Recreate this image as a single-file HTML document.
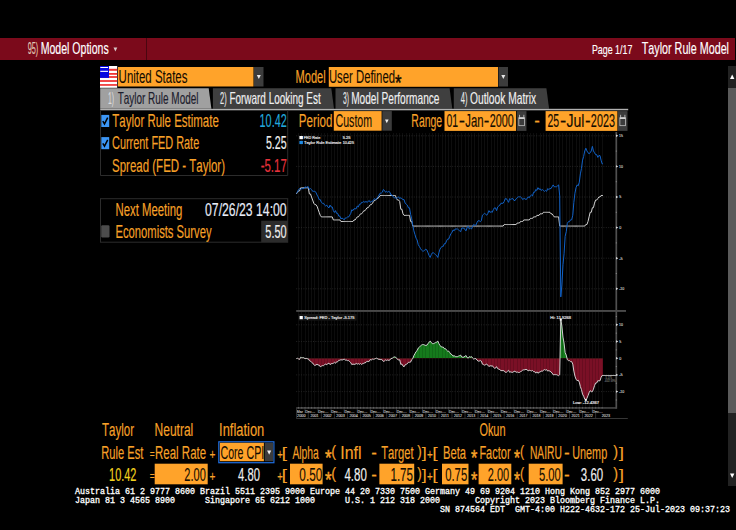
<!DOCTYPE html>
<html lang="en"><head><meta charset="utf-8"><title>Taylor Rule Model</title>
<style>html,body{margin:0;padding:0;background:#000;width:736px;height:530px;overflow:hidden}svg text{white-space:pre;font-kerning:none}</style></head>
<body>
<svg width="736" height="530" viewBox="0 0 736 530" style="display:block">
<rect x="0" y="0" width="736" height="530" fill="#000" />
<rect x="0" y="38" width="735" height="22" fill="#7b0a1b" />
<rect x="146" y="38" width="1" height="22" fill="#4a0610" />
<text x="27.66" y="53.8" textLength="10.49" lengthAdjust="spacingAndGlyphs" font-family='"Liberation Sans", sans-serif' font-size="16.7" font-weight="normal" fill="#e0c8b4"  stroke="#e0c8b4" stroke-width="0.16">95)</text>
<text x="40.63" y="53.8" textLength="68.05" lengthAdjust="spacingAndGlyphs" font-family='"Liberation Sans", sans-serif' font-size="16.7" font-weight="normal" fill="#ffffff"  stroke="#ffffff" stroke-width="0.16">Model Options</text>
<path d="M113.5 47.5 L117.3 47.5 L115.4 51.5 Z" fill="#d8c8c8"/>
<text x="591.97" y="53.8" textLength="40.37" lengthAdjust="spacingAndGlyphs" font-family='"Liberation Sans", sans-serif' font-size="13.4" font-weight="normal" fill="#ffffff"  stroke="#ffffff" stroke-width="0.16">Page 1/17</text>
<text x="641.76" y="53.8" textLength="87.26" lengthAdjust="spacingAndGlyphs" font-family='"Liberation Sans", sans-serif' font-size="17" font-weight="normal" fill="#ffffff"  stroke="#ffffff" stroke-width="0.16">Taylor Rule Model</text>
<rect x="728" y="66" width="8" height="420" fill="#222222" />
<rect x="728" y="88" width="8" height="325" fill="#5a5a5a" />
<path d="M730 79 L734.4 79 L732.2 74.5 Z" fill="#ffffff"/>
<path d="M730 473.5 L734.4 473.5 L732.2 478 Z" fill="#ffffff"/>
<rect x="100" y="66" width="17.2" height="21.8" fill="#ffffff" />
<rect x="100" y="68.8" width="17.2" height="2" fill="#f03434" />
<rect x="100" y="73" width="17.2" height="1.8" fill="#f03434" />
<rect x="100" y="76.1" width="17.2" height="1.8" fill="#f03434" />
<rect x="100" y="80.1" width="17.2" height="1.8" fill="#f03434" />
<rect x="100" y="84.1" width="17.2" height="1.7" fill="#f03434" />
<rect x="100" y="66" width="9" height="11.9" fill="#0808e0" />
<rect x="100.3" y="67" width="7.7" height="1" fill="#ffffff" />
<rect x="100.3" y="70.8" width="7.7" height="1.1" fill="#ffffff" />
<rect x="118" y="67" width="135.5" height="19.5" fill="#ffa32a" />
<text x="118.62" y="82.7" textLength="68.80" lengthAdjust="spacingAndGlyphs" font-family='"Liberation Sans", sans-serif' font-size="18.3" font-weight="normal" fill="#140c00"  stroke="#140c00" stroke-width="0.1">United States</text>
<rect x="254" y="67" width="9.5" height="19.5" fill="#3c3c3c" />
<path d="M256.8 75 L260.8 75 L258.8 79 Z" fill="#e8e8e8"/>
<text x="295.59" y="82.7" textLength="30.15" lengthAdjust="spacingAndGlyphs" font-family='"Liberation Sans", sans-serif' font-size="18.3" font-weight="normal" fill="#f7a128"  stroke="#f7a128" stroke-width="0.16">Model</text>
<rect x="328.8" y="67" width="169.2" height="19.8" fill="#ffa32a" />
<text x="328.93" y="82.7" textLength="66.10" lengthAdjust="spacingAndGlyphs" font-family='"Liberation Sans", sans-serif' font-size="18.3" font-weight="normal" fill="#140c00"  stroke="#140c00" stroke-width="0.1">User Defined</text>
<text x="394.93" y="89.6405" textLength="6.53" lengthAdjust="spacingAndGlyphs" font-family='"Liberation Sans", sans-serif' font-size="21.9327" font-weight="normal" fill="#140c00"  stroke="#140c00" stroke-width="0.45">*</text>
<rect x="498.5" y="67" width="9.5" height="19.5" fill="#3c3c3c" />
<path d="M501.3 75 L505.3 75 L503.3 79 Z" fill="#e8e8e8"/>
<path d="M100.2 88.2 L208.7 88.2 L211.39999999999998 108.7 L100.2 108.7 Z" fill="#a0a0a0"/>
<path d="M212.9 88.2 L331.3 88.2 L334.0 108.7 L212.9 108.7 Z" fill="#3f3f3f"/>
<path d="M335.5 88.2 L449.6 88.2 L452.3 108.7 L335.5 108.7 Z" fill="#3f3f3f"/>
<path d="M453.8 88.2 L546.4 88.2 L549.1 108.7 L453.8 108.7 Z" fill="#3f3f3f"/>
<rect x="100.2" y="108.8" width="528" height="1.5" fill="#b0b0b0" />
<text x="107.88" y="104" textLength="6.04" lengthAdjust="spacingAndGlyphs" font-family='"Liberation Sans", sans-serif' font-size="16.5" font-weight="normal" fill="#dcdcdc"  stroke="#dcdcdc" stroke-width="0.16">1)</text>
<text x="117.68" y="104" textLength="80.79" lengthAdjust="spacingAndGlyphs" font-family='"Liberation Sans", sans-serif' font-size="16.5" font-weight="normal" fill="#1c1c2c"  stroke="#1c1c2c" stroke-width="0.16">Taylor Rule Model</text>
<text x="220.12" y="104" textLength="6.64" lengthAdjust="spacingAndGlyphs" font-family='"Liberation Sans", sans-serif' font-size="16.5" font-weight="normal" fill="#e8e8e8"  stroke="#e8e8e8" stroke-width="0.16">2)</text>
<text x="229.38" y="104" textLength="91.29" lengthAdjust="spacingAndGlyphs" font-family='"Liberation Sans", sans-serif' font-size="16.5" font-weight="normal" fill="#f0f0f0"  stroke="#f0f0f0" stroke-width="0.16">Forward Looking Est</text>
<text x="342.94" y="104" textLength="5.97" lengthAdjust="spacingAndGlyphs" font-family='"Liberation Sans", sans-serif' font-size="16.5" font-weight="normal" fill="#e8e8e8"  stroke="#e8e8e8" stroke-width="0.16">3)</text>
<text x="351.17" y="104" textLength="88.28" lengthAdjust="spacingAndGlyphs" font-family='"Liberation Sans", sans-serif' font-size="16.5" font-weight="normal" fill="#f0f0f0"  stroke="#f0f0f0" stroke-width="0.16">Model Performance</text>
<text x="460.83" y="104" textLength="6.74" lengthAdjust="spacingAndGlyphs" font-family='"Liberation Sans", sans-serif' font-size="16.5" font-weight="normal" fill="#e8e8e8"  stroke="#e8e8e8" stroke-width="0.16">4)</text>
<text x="470.01" y="104" textLength="66.10" lengthAdjust="spacingAndGlyphs" font-family='"Liberation Sans", sans-serif' font-size="16.5" font-weight="normal" fill="#f0f0f0"  stroke="#f0f0f0" stroke-width="0.16">Outlook Matrix</text>
<path d="M100.5 110 L100.5 175.5 L287.7 175.5 L287.7 110" fill="none" stroke="#2c2c2c" stroke-width="1"/>
<rect x="101.3" y="114.9" width="7.9" height="12.1" fill="#3c96f5" />
<path d="M102.8 121.10000000000001 L104.5 123.9 L107.7 117.7" fill="none" stroke="#000" stroke-width="1.5"/>
<text x="112.34" y="126.6" textLength="106.47" lengthAdjust="spacingAndGlyphs" font-family='"Liberation Sans", sans-serif' font-size="18.3" font-weight="normal" fill="#f7a128"  stroke="#f7a128" stroke-width="0.16">Taylor Rule Estimate</text>
<text x="259.57" y="126.6" textLength="27.17" lengthAdjust="spacingAndGlyphs" font-family='"Liberation Sans", sans-serif' font-size="18.3" font-weight="normal" fill="#22a8dc"  stroke="#22a8dc" stroke-width="0.16">10.42</text>
<rect x="101.3" y="137.1" width="7.9" height="12.1" fill="#3c96f5" />
<path d="M102.8 143.29999999999998 L104.5 146.1 L107.7 139.9" fill="none" stroke="#000" stroke-width="1.5"/>
<text x="112.05" y="149.4" textLength="87.14" lengthAdjust="spacingAndGlyphs" font-family='"Liberation Sans", sans-serif' font-size="18.3" font-weight="normal" fill="#f7a128"  stroke="#f7a128" stroke-width="0.16">Current FED Rate</text>
<text x="265.97" y="149.4" textLength="20.67" lengthAdjust="spacingAndGlyphs" font-family='"Liberation Sans", sans-serif' font-size="18.3" font-weight="normal" fill="#f0f0f0"  stroke="#f0f0f0" stroke-width="0.16">5.25</text>
<text x="112.08" y="171.5" textLength="112.93" lengthAdjust="spacingAndGlyphs" font-family='"Liberation Sans", sans-serif' font-size="18.3" font-weight="normal" fill="#f7a128"  stroke="#f7a128" stroke-width="0.16">Spread (FED - Taylor)</text>
<text x="260.69" y="171.5" textLength="26.08" lengthAdjust="spacingAndGlyphs" font-family='"Liberation Sans", sans-serif' font-size="18.3" font-weight="normal" fill="#e6323c"  stroke="#e6323c" stroke-width="0.16">-5.17</text>
<rect x="100.5" y="198.7" width="187.2" height="43.5" fill="none" stroke="#2c2c2c" stroke-width="1"/>
<text x="115.47" y="215.8" textLength="66.86" lengthAdjust="spacingAndGlyphs" font-family='"Liberation Sans", sans-serif' font-size="18.3" font-weight="normal" fill="#f7a128"  stroke="#f7a128" stroke-width="0.16">Next Meeting</text>
<text x="205.02" y="215.8" textLength="81.66" lengthAdjust="spacingAndGlyphs" font-family='"Liberation Sans", sans-serif' font-size="18.3" font-weight="normal" fill="#e8ecf8"  stroke="#e8ecf8" stroke-width="0.16">07/26/23 14:00</text>
<rect x="101.2" y="225.2" width="8.3" height="12.2" fill="#4c4c4c" rx="1.2"/>
<text x="115.48" y="237.7" textLength="96.04" lengthAdjust="spacingAndGlyphs" font-family='"Liberation Sans", sans-serif' font-size="18.3" font-weight="normal" fill="#f7a128"  stroke="#f7a128" stroke-width="0.16">Economists Survey</text>
<rect x="261.2" y="220.7" width="26.6" height="21.5" fill="#2c2c2c" />
<text x="265.36" y="237.7" textLength="21.26" lengthAdjust="spacingAndGlyphs" font-family='"Liberation Sans", sans-serif' font-size="18.3" font-weight="normal" fill="#f0f0f0"  stroke="#f0f0f0" stroke-width="0.16">5.50</text>
<text x="298.85" y="126.5" textLength="33.50" lengthAdjust="spacingAndGlyphs" font-family='"Liberation Sans", sans-serif' font-size="18.3" font-weight="normal" fill="#f7a128"  stroke="#f7a128" stroke-width="0.16">Period</text>
<rect x="333.8" y="111.1" width="47.8" height="19.6" fill="#ffa32a" />
<text x="335.56" y="126.5" textLength="36.54" lengthAdjust="spacingAndGlyphs" font-family='"Liberation Sans", sans-serif' font-size="18.3" font-weight="normal" fill="#140c00"  stroke="#140c00" stroke-width="0.1">Custom</text>
<rect x="382.3" y="111.1" width="9.5" height="19.6" fill="#3c3c3c" />
<path d="M385 119.6 L388.6 119.6 L386.8 123.2 Z" fill="#f0f0f0"/>
<text x="411.34" y="126.5" textLength="30.82" lengthAdjust="spacingAndGlyphs" font-family='"Liberation Sans", sans-serif' font-size="18.3" font-weight="normal" fill="#f7a128"  stroke="#f7a128" stroke-width="0.16">Range</text>
<rect x="444.5" y="111.1" width="71.6" height="19.8" fill="#ffa32a" />
<text x="446.39" y="126.6" textLength="11.62" lengthAdjust="spacingAndGlyphs" font-family='"Liberation Sans", sans-serif' font-size="18.3" font-weight="normal" fill="#140c00"  stroke="#140c00" stroke-width="0.15">01</text>
<text x="458.86" y="126.6" textLength="6.27" lengthAdjust="spacingAndGlyphs" font-family='"Liberation Sans", sans-serif' font-size="18.3" font-weight="normal" fill="#140c00"  stroke="#140c00" stroke-width="0.15">-</text>
<text x="465.32" y="126.6" textLength="18.32" lengthAdjust="spacingAndGlyphs" font-family='"Liberation Sans", sans-serif' font-size="18.3" font-weight="normal" fill="#140c00"  stroke="#140c00" stroke-width="0.15">Jan</text>
<text x="483.85" y="126.6" textLength="5.59" lengthAdjust="spacingAndGlyphs" font-family='"Liberation Sans", sans-serif' font-size="18.3" font-weight="normal" fill="#140c00"  stroke="#140c00" stroke-width="0.15">-</text>
<text x="489.66" y="126.6" textLength="24.07" lengthAdjust="spacingAndGlyphs" font-family='"Liberation Sans", sans-serif' font-size="18.3" font-weight="normal" fill="#140c00"  stroke="#140c00" stroke-width="0.15">2000</text>
<rect x="516.95" y="111.1" width="9.5" height="19.8" fill="#3c3c3c" />
<rect x="518.85" y="117.7" width="5.7" height="8" fill="none" stroke="#d0d0d0" stroke-width="0.7"/>
<rect x="518.85" y="117.4" width="5.7" height="1.6" fill="#d0d0d0" />
<line x1="519.55" y1="114.8" x2="519.55" y2="117.5" stroke="#d0d0d0" stroke-width="0.8" />
<line x1="523.85" y1="114.8" x2="523.85" y2="117.5" stroke="#d0d0d0" stroke-width="0.8" />
<text x="534.15" y="126.6" textLength="5.59" lengthAdjust="spacingAndGlyphs" font-family='"Liberation Sans", sans-serif' font-size="18.3" font-weight="normal" fill="#f7a128"  stroke="#f7a128" stroke-width="0.16">-</text>
<rect x="545.6" y="111.1" width="71.8" height="19.8" fill="#ffa32a" />
<text x="547.47" y="126.6" textLength="11.67" lengthAdjust="spacingAndGlyphs" font-family='"Liberation Sans", sans-serif' font-size="18.3" font-weight="normal" fill="#140c00"  stroke="#140c00" stroke-width="0.15">25</text>
<text x="560.06" y="126.6" textLength="6.27" lengthAdjust="spacingAndGlyphs" font-family='"Liberation Sans", sans-serif' font-size="18.3" font-weight="normal" fill="#140c00"  stroke="#140c00" stroke-width="0.15">-</text>
<text x="566.48" y="126.6" textLength="17.96" lengthAdjust="spacingAndGlyphs" font-family='"Liberation Sans", sans-serif' font-size="18.3" font-weight="normal" fill="#140c00"  stroke="#140c00" stroke-width="0.15">Jul</text>
<text x="585.05" y="126.6" textLength="5.59" lengthAdjust="spacingAndGlyphs" font-family='"Liberation Sans", sans-serif' font-size="18.3" font-weight="normal" fill="#140c00"  stroke="#140c00" stroke-width="0.15">-</text>
<text x="590.85" y="126.6" textLength="24.12" lengthAdjust="spacingAndGlyphs" font-family='"Liberation Sans", sans-serif' font-size="18.3" font-weight="normal" fill="#140c00"  stroke="#140c00" stroke-width="0.15">2023</text>
<rect x="618" y="111.1" width="9.5" height="19.8" fill="#3c3c3c" />
<rect x="619.9" y="117.7" width="5.7" height="8" fill="none" stroke="#d0d0d0" stroke-width="0.7"/>
<rect x="619.9" y="117.4" width="5.7" height="1.6" fill="#d0d0d0" />
<line x1="620.6" y1="114.8" x2="620.6" y2="117.5" stroke="#d0d0d0" stroke-width="0.8" />
<line x1="624.9" y1="114.8" x2="624.9" y2="117.5" stroke="#d0d0d0" stroke-width="0.8" />
<line x1="298.5" y1="133" x2="298.5" y2="310" stroke="#0e0e0e" stroke-width="1" />
<line x1="298.5" y1="312" x2="298.5" y2="407" stroke="#0e0e0e" stroke-width="1" />
<line x1="301.5" y1="133" x2="301.5" y2="310" stroke="#0e0e0e" stroke-width="1" />
<line x1="301.5" y1="312" x2="301.5" y2="407" stroke="#0e0e0e" stroke-width="1" />
<line x1="305.5" y1="133" x2="305.5" y2="310" stroke="#0e0e0e" stroke-width="1" />
<line x1="305.5" y1="312" x2="305.5" y2="407" stroke="#0e0e0e" stroke-width="1" />
<line x1="308.5" y1="133" x2="308.5" y2="310" stroke="#0e0e0e" stroke-width="1" />
<line x1="308.5" y1="312" x2="308.5" y2="407" stroke="#0e0e0e" stroke-width="1" />
<line x1="311.5" y1="133" x2="311.5" y2="310" stroke="#0e0e0e" stroke-width="1" />
<line x1="311.5" y1="312" x2="311.5" y2="407" stroke="#0e0e0e" stroke-width="1" />
<line x1="314.5" y1="133" x2="314.5" y2="310" stroke="#0e0e0e" stroke-width="1" />
<line x1="314.5" y1="312" x2="314.5" y2="407" stroke="#0e0e0e" stroke-width="1" />
<line x1="318.5" y1="133" x2="318.5" y2="310" stroke="#0e0e0e" stroke-width="1" />
<line x1="318.5" y1="312" x2="318.5" y2="407" stroke="#0e0e0e" stroke-width="1" />
<line x1="321.5" y1="133" x2="321.5" y2="310" stroke="#0e0e0e" stroke-width="1" />
<line x1="321.5" y1="312" x2="321.5" y2="407" stroke="#0e0e0e" stroke-width="1" />
<line x1="324.5" y1="133" x2="324.5" y2="310" stroke="#0e0e0e" stroke-width="1" />
<line x1="324.5" y1="312" x2="324.5" y2="407" stroke="#0e0e0e" stroke-width="1" />
<line x1="327.5" y1="133" x2="327.5" y2="310" stroke="#0e0e0e" stroke-width="1" />
<line x1="327.5" y1="312" x2="327.5" y2="407" stroke="#0e0e0e" stroke-width="1" />
<line x1="331.5" y1="133" x2="331.5" y2="310" stroke="#0e0e0e" stroke-width="1" />
<line x1="331.5" y1="312" x2="331.5" y2="407" stroke="#0e0e0e" stroke-width="1" />
<line x1="334.5" y1="133" x2="334.5" y2="310" stroke="#0e0e0e" stroke-width="1" />
<line x1="334.5" y1="312" x2="334.5" y2="407" stroke="#0e0e0e" stroke-width="1" />
<line x1="337.5" y1="133" x2="337.5" y2="310" stroke="#0e0e0e" stroke-width="1" />
<line x1="337.5" y1="312" x2="337.5" y2="407" stroke="#0e0e0e" stroke-width="1" />
<line x1="340.5" y1="133" x2="340.5" y2="310" stroke="#0e0e0e" stroke-width="1" />
<line x1="340.5" y1="312" x2="340.5" y2="407" stroke="#0e0e0e" stroke-width="1" />
<line x1="344.5" y1="133" x2="344.5" y2="310" stroke="#0e0e0e" stroke-width="1" />
<line x1="344.5" y1="312" x2="344.5" y2="407" stroke="#0e0e0e" stroke-width="1" />
<line x1="347.5" y1="133" x2="347.5" y2="310" stroke="#0e0e0e" stroke-width="1" />
<line x1="347.5" y1="312" x2="347.5" y2="407" stroke="#0e0e0e" stroke-width="1" />
<line x1="350.5" y1="133" x2="350.5" y2="310" stroke="#0e0e0e" stroke-width="1" />
<line x1="350.5" y1="312" x2="350.5" y2="407" stroke="#0e0e0e" stroke-width="1" />
<line x1="354.5" y1="133" x2="354.5" y2="310" stroke="#0e0e0e" stroke-width="1" />
<line x1="354.5" y1="312" x2="354.5" y2="407" stroke="#0e0e0e" stroke-width="1" />
<line x1="357.5" y1="133" x2="357.5" y2="310" stroke="#0e0e0e" stroke-width="1" />
<line x1="357.5" y1="312" x2="357.5" y2="407" stroke="#0e0e0e" stroke-width="1" />
<line x1="360.5" y1="133" x2="360.5" y2="310" stroke="#0e0e0e" stroke-width="1" />
<line x1="360.5" y1="312" x2="360.5" y2="407" stroke="#0e0e0e" stroke-width="1" />
<line x1="363.5" y1="133" x2="363.5" y2="310" stroke="#0e0e0e" stroke-width="1" />
<line x1="363.5" y1="312" x2="363.5" y2="407" stroke="#0e0e0e" stroke-width="1" />
<line x1="367.5" y1="133" x2="367.5" y2="310" stroke="#0e0e0e" stroke-width="1" />
<line x1="367.5" y1="312" x2="367.5" y2="407" stroke="#0e0e0e" stroke-width="1" />
<line x1="370.5" y1="133" x2="370.5" y2="310" stroke="#0e0e0e" stroke-width="1" />
<line x1="370.5" y1="312" x2="370.5" y2="407" stroke="#0e0e0e" stroke-width="1" />
<line x1="373.5" y1="133" x2="373.5" y2="310" stroke="#0e0e0e" stroke-width="1" />
<line x1="373.5" y1="312" x2="373.5" y2="407" stroke="#0e0e0e" stroke-width="1" />
<line x1="376.5" y1="133" x2="376.5" y2="310" stroke="#0e0e0e" stroke-width="1" />
<line x1="376.5" y1="312" x2="376.5" y2="407" stroke="#0e0e0e" stroke-width="1" />
<line x1="380.5" y1="133" x2="380.5" y2="310" stroke="#0e0e0e" stroke-width="1" />
<line x1="380.5" y1="312" x2="380.5" y2="407" stroke="#0e0e0e" stroke-width="1" />
<line x1="383.5" y1="133" x2="383.5" y2="310" stroke="#0e0e0e" stroke-width="1" />
<line x1="383.5" y1="312" x2="383.5" y2="407" stroke="#0e0e0e" stroke-width="1" />
<line x1="386.5" y1="133" x2="386.5" y2="310" stroke="#0e0e0e" stroke-width="1" />
<line x1="386.5" y1="312" x2="386.5" y2="407" stroke="#0e0e0e" stroke-width="1" />
<line x1="389.5" y1="133" x2="389.5" y2="310" stroke="#0e0e0e" stroke-width="1" />
<line x1="389.5" y1="312" x2="389.5" y2="407" stroke="#0e0e0e" stroke-width="1" />
<line x1="393.5" y1="133" x2="393.5" y2="310" stroke="#0e0e0e" stroke-width="1" />
<line x1="393.5" y1="312" x2="393.5" y2="407" stroke="#0e0e0e" stroke-width="1" />
<line x1="396.5" y1="133" x2="396.5" y2="310" stroke="#0e0e0e" stroke-width="1" />
<line x1="396.5" y1="312" x2="396.5" y2="407" stroke="#0e0e0e" stroke-width="1" />
<line x1="399.5" y1="133" x2="399.5" y2="310" stroke="#0e0e0e" stroke-width="1" />
<line x1="399.5" y1="312" x2="399.5" y2="407" stroke="#0e0e0e" stroke-width="1" />
<line x1="402.5" y1="133" x2="402.5" y2="310" stroke="#0e0e0e" stroke-width="1" />
<line x1="402.5" y1="312" x2="402.5" y2="407" stroke="#0e0e0e" stroke-width="1" />
<line x1="406.5" y1="133" x2="406.5" y2="310" stroke="#0e0e0e" stroke-width="1" />
<line x1="406.5" y1="312" x2="406.5" y2="407" stroke="#0e0e0e" stroke-width="1" />
<line x1="409.5" y1="133" x2="409.5" y2="310" stroke="#0e0e0e" stroke-width="1" />
<line x1="409.5" y1="312" x2="409.5" y2="407" stroke="#0e0e0e" stroke-width="1" />
<line x1="412.5" y1="133" x2="412.5" y2="310" stroke="#0e0e0e" stroke-width="1" />
<line x1="412.5" y1="312" x2="412.5" y2="407" stroke="#0e0e0e" stroke-width="1" />
<line x1="416.5" y1="133" x2="416.5" y2="310" stroke="#0e0e0e" stroke-width="1" />
<line x1="416.5" y1="312" x2="416.5" y2="407" stroke="#0e0e0e" stroke-width="1" />
<line x1="419.5" y1="133" x2="419.5" y2="310" stroke="#0e0e0e" stroke-width="1" />
<line x1="419.5" y1="312" x2="419.5" y2="407" stroke="#0e0e0e" stroke-width="1" />
<line x1="422.5" y1="133" x2="422.5" y2="310" stroke="#0e0e0e" stroke-width="1" />
<line x1="422.5" y1="312" x2="422.5" y2="407" stroke="#0e0e0e" stroke-width="1" />
<line x1="425.5" y1="133" x2="425.5" y2="310" stroke="#0e0e0e" stroke-width="1" />
<line x1="425.5" y1="312" x2="425.5" y2="407" stroke="#0e0e0e" stroke-width="1" />
<line x1="429.5" y1="133" x2="429.5" y2="310" stroke="#0e0e0e" stroke-width="1" />
<line x1="429.5" y1="312" x2="429.5" y2="407" stroke="#0e0e0e" stroke-width="1" />
<line x1="432.5" y1="133" x2="432.5" y2="310" stroke="#0e0e0e" stroke-width="1" />
<line x1="432.5" y1="312" x2="432.5" y2="407" stroke="#0e0e0e" stroke-width="1" />
<line x1="435.5" y1="133" x2="435.5" y2="310" stroke="#0e0e0e" stroke-width="1" />
<line x1="435.5" y1="312" x2="435.5" y2="407" stroke="#0e0e0e" stroke-width="1" />
<line x1="438.5" y1="133" x2="438.5" y2="310" stroke="#0e0e0e" stroke-width="1" />
<line x1="438.5" y1="312" x2="438.5" y2="407" stroke="#0e0e0e" stroke-width="1" />
<line x1="442.5" y1="133" x2="442.5" y2="310" stroke="#0e0e0e" stroke-width="1" />
<line x1="442.5" y1="312" x2="442.5" y2="407" stroke="#0e0e0e" stroke-width="1" />
<line x1="445.5" y1="133" x2="445.5" y2="310" stroke="#0e0e0e" stroke-width="1" />
<line x1="445.5" y1="312" x2="445.5" y2="407" stroke="#0e0e0e" stroke-width="1" />
<line x1="448.5" y1="133" x2="448.5" y2="310" stroke="#0e0e0e" stroke-width="1" />
<line x1="448.5" y1="312" x2="448.5" y2="407" stroke="#0e0e0e" stroke-width="1" />
<line x1="451.5" y1="133" x2="451.5" y2="310" stroke="#0e0e0e" stroke-width="1" />
<line x1="451.5" y1="312" x2="451.5" y2="407" stroke="#0e0e0e" stroke-width="1" />
<line x1="455.5" y1="133" x2="455.5" y2="310" stroke="#0e0e0e" stroke-width="1" />
<line x1="455.5" y1="312" x2="455.5" y2="407" stroke="#0e0e0e" stroke-width="1" />
<line x1="458.5" y1="133" x2="458.5" y2="310" stroke="#0e0e0e" stroke-width="1" />
<line x1="458.5" y1="312" x2="458.5" y2="407" stroke="#0e0e0e" stroke-width="1" />
<line x1="461.5" y1="133" x2="461.5" y2="310" stroke="#0e0e0e" stroke-width="1" />
<line x1="461.5" y1="312" x2="461.5" y2="407" stroke="#0e0e0e" stroke-width="1" />
<line x1="465.5" y1="133" x2="465.5" y2="310" stroke="#0e0e0e" stroke-width="1" />
<line x1="465.5" y1="312" x2="465.5" y2="407" stroke="#0e0e0e" stroke-width="1" />
<line x1="468.5" y1="133" x2="468.5" y2="310" stroke="#0e0e0e" stroke-width="1" />
<line x1="468.5" y1="312" x2="468.5" y2="407" stroke="#0e0e0e" stroke-width="1" />
<line x1="471.5" y1="133" x2="471.5" y2="310" stroke="#0e0e0e" stroke-width="1" />
<line x1="471.5" y1="312" x2="471.5" y2="407" stroke="#0e0e0e" stroke-width="1" />
<line x1="474.5" y1="133" x2="474.5" y2="310" stroke="#0e0e0e" stroke-width="1" />
<line x1="474.5" y1="312" x2="474.5" y2="407" stroke="#0e0e0e" stroke-width="1" />
<line x1="478.5" y1="133" x2="478.5" y2="310" stroke="#0e0e0e" stroke-width="1" />
<line x1="478.5" y1="312" x2="478.5" y2="407" stroke="#0e0e0e" stroke-width="1" />
<line x1="481.5" y1="133" x2="481.5" y2="310" stroke="#0e0e0e" stroke-width="1" />
<line x1="481.5" y1="312" x2="481.5" y2="407" stroke="#0e0e0e" stroke-width="1" />
<line x1="484.5" y1="133" x2="484.5" y2="310" stroke="#0e0e0e" stroke-width="1" />
<line x1="484.5" y1="312" x2="484.5" y2="407" stroke="#0e0e0e" stroke-width="1" />
<line x1="487.5" y1="133" x2="487.5" y2="310" stroke="#0e0e0e" stroke-width="1" />
<line x1="487.5" y1="312" x2="487.5" y2="407" stroke="#0e0e0e" stroke-width="1" />
<line x1="491.5" y1="133" x2="491.5" y2="310" stroke="#0e0e0e" stroke-width="1" />
<line x1="491.5" y1="312" x2="491.5" y2="407" stroke="#0e0e0e" stroke-width="1" />
<line x1="494.5" y1="133" x2="494.5" y2="310" stroke="#0e0e0e" stroke-width="1" />
<line x1="494.5" y1="312" x2="494.5" y2="407" stroke="#0e0e0e" stroke-width="1" />
<line x1="497.5" y1="133" x2="497.5" y2="310" stroke="#0e0e0e" stroke-width="1" />
<line x1="497.5" y1="312" x2="497.5" y2="407" stroke="#0e0e0e" stroke-width="1" />
<line x1="500.5" y1="133" x2="500.5" y2="310" stroke="#0e0e0e" stroke-width="1" />
<line x1="500.5" y1="312" x2="500.5" y2="407" stroke="#0e0e0e" stroke-width="1" />
<line x1="504.5" y1="133" x2="504.5" y2="310" stroke="#0e0e0e" stroke-width="1" />
<line x1="504.5" y1="312" x2="504.5" y2="407" stroke="#0e0e0e" stroke-width="1" />
<line x1="507.5" y1="133" x2="507.5" y2="310" stroke="#0e0e0e" stroke-width="1" />
<line x1="507.5" y1="312" x2="507.5" y2="407" stroke="#0e0e0e" stroke-width="1" />
<line x1="510.5" y1="133" x2="510.5" y2="310" stroke="#0e0e0e" stroke-width="1" />
<line x1="510.5" y1="312" x2="510.5" y2="407" stroke="#0e0e0e" stroke-width="1" />
<line x1="513.5" y1="133" x2="513.5" y2="310" stroke="#0e0e0e" stroke-width="1" />
<line x1="513.5" y1="312" x2="513.5" y2="407" stroke="#0e0e0e" stroke-width="1" />
<line x1="517.5" y1="133" x2="517.5" y2="310" stroke="#0e0e0e" stroke-width="1" />
<line x1="517.5" y1="312" x2="517.5" y2="407" stroke="#0e0e0e" stroke-width="1" />
<line x1="520.5" y1="133" x2="520.5" y2="310" stroke="#0e0e0e" stroke-width="1" />
<line x1="520.5" y1="312" x2="520.5" y2="407" stroke="#0e0e0e" stroke-width="1" />
<line x1="523.5" y1="133" x2="523.5" y2="310" stroke="#0e0e0e" stroke-width="1" />
<line x1="523.5" y1="312" x2="523.5" y2="407" stroke="#0e0e0e" stroke-width="1" />
<line x1="527.5" y1="133" x2="527.5" y2="310" stroke="#0e0e0e" stroke-width="1" />
<line x1="527.5" y1="312" x2="527.5" y2="407" stroke="#0e0e0e" stroke-width="1" />
<line x1="530.5" y1="133" x2="530.5" y2="310" stroke="#0e0e0e" stroke-width="1" />
<line x1="530.5" y1="312" x2="530.5" y2="407" stroke="#0e0e0e" stroke-width="1" />
<line x1="533.5" y1="133" x2="533.5" y2="310" stroke="#0e0e0e" stroke-width="1" />
<line x1="533.5" y1="312" x2="533.5" y2="407" stroke="#0e0e0e" stroke-width="1" />
<line x1="536.5" y1="133" x2="536.5" y2="310" stroke="#0e0e0e" stroke-width="1" />
<line x1="536.5" y1="312" x2="536.5" y2="407" stroke="#0e0e0e" stroke-width="1" />
<line x1="540.5" y1="133" x2="540.5" y2="310" stroke="#0e0e0e" stroke-width="1" />
<line x1="540.5" y1="312" x2="540.5" y2="407" stroke="#0e0e0e" stroke-width="1" />
<line x1="543.5" y1="133" x2="543.5" y2="310" stroke="#0e0e0e" stroke-width="1" />
<line x1="543.5" y1="312" x2="543.5" y2="407" stroke="#0e0e0e" stroke-width="1" />
<line x1="546.5" y1="133" x2="546.5" y2="310" stroke="#0e0e0e" stroke-width="1" />
<line x1="546.5" y1="312" x2="546.5" y2="407" stroke="#0e0e0e" stroke-width="1" />
<line x1="549.5" y1="133" x2="549.5" y2="310" stroke="#0e0e0e" stroke-width="1" />
<line x1="549.5" y1="312" x2="549.5" y2="407" stroke="#0e0e0e" stroke-width="1" />
<line x1="553.5" y1="133" x2="553.5" y2="310" stroke="#0e0e0e" stroke-width="1" />
<line x1="553.5" y1="312" x2="553.5" y2="407" stroke="#0e0e0e" stroke-width="1" />
<line x1="556.5" y1="133" x2="556.5" y2="310" stroke="#0e0e0e" stroke-width="1" />
<line x1="556.5" y1="312" x2="556.5" y2="407" stroke="#0e0e0e" stroke-width="1" />
<line x1="559.5" y1="133" x2="559.5" y2="310" stroke="#0e0e0e" stroke-width="1" />
<line x1="559.5" y1="312" x2="559.5" y2="407" stroke="#0e0e0e" stroke-width="1" />
<line x1="562.5" y1="133" x2="562.5" y2="310" stroke="#0e0e0e" stroke-width="1" />
<line x1="562.5" y1="312" x2="562.5" y2="407" stroke="#0e0e0e" stroke-width="1" />
<line x1="566.5" y1="133" x2="566.5" y2="310" stroke="#0e0e0e" stroke-width="1" />
<line x1="566.5" y1="312" x2="566.5" y2="407" stroke="#0e0e0e" stroke-width="1" />
<line x1="569.5" y1="133" x2="569.5" y2="310" stroke="#0e0e0e" stroke-width="1" />
<line x1="569.5" y1="312" x2="569.5" y2="407" stroke="#0e0e0e" stroke-width="1" />
<line x1="572.5" y1="133" x2="572.5" y2="310" stroke="#0e0e0e" stroke-width="1" />
<line x1="572.5" y1="312" x2="572.5" y2="407" stroke="#0e0e0e" stroke-width="1" />
<line x1="576.5" y1="133" x2="576.5" y2="310" stroke="#0e0e0e" stroke-width="1" />
<line x1="576.5" y1="312" x2="576.5" y2="407" stroke="#0e0e0e" stroke-width="1" />
<line x1="579.5" y1="133" x2="579.5" y2="310" stroke="#0e0e0e" stroke-width="1" />
<line x1="579.5" y1="312" x2="579.5" y2="407" stroke="#0e0e0e" stroke-width="1" />
<line x1="582.5" y1="133" x2="582.5" y2="310" stroke="#0e0e0e" stroke-width="1" />
<line x1="582.5" y1="312" x2="582.5" y2="407" stroke="#0e0e0e" stroke-width="1" />
<line x1="585.5" y1="133" x2="585.5" y2="310" stroke="#0e0e0e" stroke-width="1" />
<line x1="585.5" y1="312" x2="585.5" y2="407" stroke="#0e0e0e" stroke-width="1" />
<line x1="589.5" y1="133" x2="589.5" y2="310" stroke="#0e0e0e" stroke-width="1" />
<line x1="589.5" y1="312" x2="589.5" y2="407" stroke="#0e0e0e" stroke-width="1" />
<line x1="592.5" y1="133" x2="592.5" y2="310" stroke="#0e0e0e" stroke-width="1" />
<line x1="592.5" y1="312" x2="592.5" y2="407" stroke="#0e0e0e" stroke-width="1" />
<line x1="595.5" y1="133" x2="595.5" y2="310" stroke="#0e0e0e" stroke-width="1" />
<line x1="595.5" y1="312" x2="595.5" y2="407" stroke="#0e0e0e" stroke-width="1" />
<line x1="598.5" y1="133" x2="598.5" y2="310" stroke="#0e0e0e" stroke-width="1" />
<line x1="598.5" y1="312" x2="598.5" y2="407" stroke="#0e0e0e" stroke-width="1" />
<line x1="602.5" y1="133" x2="602.5" y2="310" stroke="#0e0e0e" stroke-width="1" />
<line x1="602.5" y1="312" x2="602.5" y2="407" stroke="#0e0e0e" stroke-width="1" />
<line x1="296.2" y1="135.8" x2="616.3" y2="135.8" stroke="#303030" stroke-width="0.7" stroke-dasharray="1 1.4"/>
<line x1="296.2" y1="166.4" x2="616.3" y2="166.4" stroke="#303030" stroke-width="0.7" stroke-dasharray="1 1.4"/>
<line x1="296.2" y1="197" x2="616.3" y2="197" stroke="#303030" stroke-width="0.7" stroke-dasharray="1 1.4"/>
<line x1="296.2" y1="227.6" x2="616.3" y2="227.6" stroke="#303030" stroke-width="0.7" stroke-dasharray="1 1.4"/>
<line x1="296.2" y1="258.2" x2="616.3" y2="258.2" stroke="#303030" stroke-width="0.7" stroke-dasharray="1 1.4"/>
<line x1="296.2" y1="288.8" x2="616.3" y2="288.8" stroke="#303030" stroke-width="0.7" stroke-dasharray="1 1.4"/>
<line x1="296.2" y1="324.8" x2="616.3" y2="324.8" stroke="#303030" stroke-width="0.7" stroke-dasharray="1 1.4"/>
<line x1="296.2" y1="341.5" x2="616.3" y2="341.5" stroke="#303030" stroke-width="0.7" stroke-dasharray="1 1.4"/>
<line x1="296.2" y1="374.9" x2="616.3" y2="374.9" stroke="#303030" stroke-width="0.7" stroke-dasharray="1 1.4"/>
<line x1="296.2" y1="391.6" x2="616.3" y2="391.6" stroke="#303030" stroke-width="0.7" stroke-dasharray="1 1.4"/>
<polyline points="296.33,193.94 297.42,192.41 298.50,190.88 299.59,190.88 300.68,187.82 301.77,187.82 302.86,187.82 303.95,187.82 305.04,187.82 306.12,187.82 307.21,187.82 308.30,187.82 309.39,193.94 310.48,193.94 311.56,197.00 312.65,200.06 313.74,203.12 314.83,204.65 315.92,204.65 317.01,206.18 318.10,209.24 319.18,212.30 320.27,215.36 321.36,216.89 322.45,216.89 323.54,216.89 324.62,216.89 325.71,216.89 326.80,216.89 327.89,216.89 328.98,216.89 330.07,216.89 331.16,216.89 332.24,216.89 333.33,219.95 334.42,219.95 335.51,219.95 336.60,219.95 337.69,219.95 338.77,219.95 339.86,219.95 340.95,221.48 342.04,221.48 343.13,221.48 344.22,221.48 345.30,221.48 346.39,221.48 347.48,221.48 348.57,221.48 349.66,221.48 350.75,221.48 351.83,221.48 352.92,221.48 354.01,219.95 355.10,219.95 356.19,218.42 357.28,216.89 358.36,216.89 359.45,215.36 360.54,213.83 361.63,213.83 362.72,212.30 363.81,210.77 364.89,210.77 365.98,209.24 367.07,207.71 368.16,207.71 369.25,206.18 370.34,204.65 371.42,204.65 372.51,203.12 373.60,201.59 374.69,200.06 375.78,200.06 376.87,198.53 377.95,198.53 379.04,197.00 380.13,195.47 381.22,195.47 382.31,195.47 383.39,195.47 384.48,195.47 385.57,195.47 386.66,195.47 387.75,195.47 388.84,195.47 389.93,195.47 391.01,195.47 392.10,195.47 393.19,195.47 394.28,195.47 395.37,195.47 396.46,198.53 397.54,200.06 398.63,200.06 399.72,201.59 400.81,209.24 401.90,209.24 402.99,213.83 404.07,215.36 405.16,215.36 406.25,215.36 407.34,215.36 408.43,215.36 409.51,215.36 410.60,221.48 411.69,221.48 412.78,226.07 413.87,226.07 414.96,226.07 416.05,226.07 417.13,226.07 418.22,226.07 419.31,226.07 420.40,226.07 421.49,226.07 422.58,226.07 423.66,226.07 424.75,226.07 425.84,226.07 426.93,226.07 428.02,226.07 429.11,226.07 430.19,226.07 431.28,226.07 432.37,226.07 433.46,226.07 434.55,226.07 435.63,226.07 436.72,226.07 437.81,226.07 438.90,226.07 439.99,226.07 441.08,226.07 442.17,226.07 443.25,226.07 444.34,226.07 445.43,226.07 446.52,226.07 447.61,226.07 448.70,226.07 449.78,226.07 450.87,226.07 451.96,226.07 453.05,226.07 454.14,226.07 455.23,226.07 456.31,226.07 457.40,226.07 458.49,226.07 459.58,226.07 460.67,226.07 461.75,226.07 462.84,226.07 463.93,226.07 465.02,226.07 466.11,226.07 467.20,226.07 468.29,226.07 469.37,226.07 470.46,226.07 471.55,226.07 472.64,226.07 473.73,226.07 474.82,226.07 475.90,226.07 476.99,226.07 478.08,226.07 479.17,226.07 480.26,226.07 481.35,226.07 482.43,226.07 483.52,226.07 484.61,226.07 485.70,226.07 486.79,226.07 487.88,226.07 488.96,226.07 490.05,226.07 491.14,226.07 492.23,226.07 493.32,226.07 494.41,226.07 495.49,226.07 496.58,226.07 497.67,226.07 498.76,226.07 499.85,226.07 500.94,226.07 502.02,226.07 503.11,226.07 504.20,224.54 505.29,224.54 506.38,224.54 507.47,224.54 508.55,224.54 509.64,224.54 510.73,224.54 511.82,224.54 512.91,224.54 514.00,224.54 515.08,224.54 516.17,224.54 517.26,223.01 518.35,223.01 519.44,223.01 520.52,221.48 521.61,221.48 522.70,221.48 523.79,219.95 524.88,219.95 525.97,219.95 527.06,219.95 528.14,219.95 529.23,219.95 530.32,218.42 531.41,218.42 532.50,218.42 533.59,216.89 534.67,216.89 535.76,216.89 536.85,215.36 537.94,215.36 539.03,215.36 540.12,213.83 541.20,213.83 542.29,213.83 543.38,212.30 544.47,212.30 545.56,212.30 546.64,212.30 547.73,212.30 548.82,212.30 549.91,212.30 551.00,213.83 552.09,213.83 553.17,215.36 554.26,216.89 555.35,216.89 556.44,216.89 557.53,216.89 558.62,216.89 559.71,226.07 560.79,226.07 561.88,226.07 562.97,226.07 564.06,226.07 565.15,226.07 566.24,226.07 567.32,226.07 568.41,226.07 569.50,226.07 570.59,226.07 571.68,226.07 572.77,226.07 573.85,226.07 574.94,226.07 576.03,226.07 577.12,226.07 578.21,226.07 579.30,226.07 580.38,226.07 581.47,226.07 582.56,226.07 583.65,226.07 584.74,226.07 585.83,224.54 586.91,224.54 588.00,221.48 589.09,216.89 590.18,212.30 591.27,212.30 592.36,207.71 593.44,207.71 594.53,203.12 595.62,200.06 596.71,200.06 597.80,198.53 598.88,197.00 599.97,197.00 601.06,195.47 602.15,195.47 603.00,195.47" fill="none" stroke="#d4d4d4" stroke-width="1" stroke-linejoin="round"/>
<polyline points="296.33,193.18 297.42,192.26 298.50,189.50 299.59,188.58 300.68,189.50 301.77,188.58 302.86,188.58 303.95,188.58 305.04,186.75 306.12,187.67 307.21,186.75 308.30,186.75 309.39,189.50 310.48,188.58 311.56,189.50 312.65,191.34 313.74,191.34 314.83,191.34 315.92,192.26 317.01,195.01 318.10,196.85 319.18,199.60 320.27,199.60 321.36,202.35 322.45,203.27 323.54,203.27 324.62,205.11 325.71,206.03 326.80,205.11 327.89,206.94 328.98,207.86 330.07,205.11 331.16,206.94 332.24,206.94 333.33,210.62 334.42,212.45 335.51,210.62 336.60,213.37 337.69,213.37 338.77,216.12 339.86,216.12 340.95,218.88 342.04,217.96 343.13,218.88 344.22,219.80 345.30,217.96 346.39,217.96 347.48,217.04 348.57,217.04 349.66,215.21 350.75,213.37 351.83,209.70 352.92,210.62 354.01,208.78 355.10,208.78 356.19,208.78 357.28,206.03 358.36,206.94 359.45,204.19 360.54,204.19 361.63,202.35 362.72,202.35 363.81,201.44 364.89,202.35 365.98,201.44 367.07,202.35 368.16,201.44 369.25,200.52 370.34,202.35 371.42,201.44 372.51,201.44 373.60,199.60 374.69,198.68 375.78,199.60 376.87,198.68 377.95,196.85 379.04,195.01 380.13,193.17 381.22,193.18 382.31,192.26 383.39,189.50 384.48,190.42 385.57,192.26 386.66,191.34 387.75,192.26 388.84,191.34 389.93,192.26 391.01,195.01 392.10,195.01 393.19,196.85 394.28,197.76 395.37,197.76 396.46,198.68 397.54,197.76 398.63,196.85 399.72,198.68 400.81,197.76 401.90,198.68 402.99,199.60 404.07,199.60 405.16,203.27 406.25,204.19 407.34,205.11 408.43,207.86 409.51,207.86 410.60,214.29 411.69,218.88 412.78,225.31 413.87,230.81 414.96,234.49 416.05,238.16 417.13,239.99 418.22,244.58 419.31,246.42 420.40,248.25 421.49,250.09 422.58,251.01 423.66,251.01 424.75,250.09 425.84,249.17 426.93,250.09 428.02,252.84 429.11,255.60 430.19,257.44 431.28,254.68 432.37,252.84 433.46,252.84 434.55,253.76 435.63,254.68 436.72,255.60 437.81,257.44 438.90,252.84 439.99,249.17 441.08,247.34 442.17,246.42 443.25,246.42 444.34,243.66 445.43,243.66 446.52,240.91 447.61,239.07 448.70,239.07 449.78,236.32 450.87,233.57 451.96,232.65 453.05,229.90 454.14,230.81 455.23,228.98 456.31,228.98 457.40,228.98 458.49,229.89 459.58,230.81 460.67,231.73 461.75,228.06 462.84,228.06 463.93,228.06 465.02,229.89 466.11,230.81 467.20,227.14 468.29,226.22 469.37,228.98 470.46,228.06 471.55,228.98 472.64,226.22 473.73,224.39 474.82,225.31 475.90,225.31 476.99,222.55 478.08,220.72 479.17,220.72 480.26,221.63 481.35,220.72 482.43,215.21 483.52,214.29 484.61,213.37 485.70,214.29 486.79,215.21 487.88,213.37 488.96,210.62 490.05,212.45 491.14,211.53 492.23,212.45 493.32,209.70 494.41,207.86 495.49,207.86 496.58,210.62 497.67,206.94 498.76,206.03 499.85,205.11 500.94,203.27 502.02,203.27 503.11,203.27 504.20,201.44 505.29,198.68 506.38,198.68 507.47,200.52 508.55,202.35 509.64,198.68 510.73,199.60 511.82,198.68 512.91,198.68 514.00,200.52 515.08,200.52 516.17,198.68 517.26,197.76 518.35,196.85 519.44,196.85 520.52,196.85 521.61,197.76 522.70,199.60 523.79,198.68 524.88,198.68 525.97,199.60 527.06,198.68 528.14,196.85 529.23,197.76 530.32,195.93 531.41,195.01 532.50,195.93 533.59,192.26 534.67,192.26 535.76,189.50 536.85,190.42 537.94,187.67 539.03,189.50 540.12,188.58 541.20,190.42 542.29,189.50 543.38,190.42 544.47,191.34 545.56,190.42 546.64,191.34 547.73,188.58 548.82,189.50 549.91,188.58 551.00,188.58 552.09,186.75 553.17,184.91 554.26,186.75 555.35,186.75 556.44,186.75 557.53,185.83 558.62,184.91 559.71,195.93 560.79,296.91 561.88,284.98 562.97,264.78 564.06,253.76 565.15,236.32 566.24,231.73 567.32,223.47 568.41,221.63 569.50,221.63 570.59,219.80 571.68,219.80 572.77,215.21 573.85,202.35 574.94,193.18 576.03,187.67 577.12,184.91 578.21,185.83 579.30,182.16 580.38,173.90 581.47,168.39 582.56,160.13 583.65,156.45 584.74,150.95 585.83,148.19 586.91,150.95 588.00,152.78 589.09,153.70 590.18,152.78 591.27,150.95 592.36,146.36 593.44,150.95 594.53,152.78 595.62,154.62 596.71,154.62 597.80,157.37 598.88,155.54 599.97,155.54 601.06,160.13 602.15,163.80 603.00,163.80" fill="none" stroke="#1162c8" stroke-width="1" stroke-linejoin="round"/>
<rect x="299.4" y="136" width="3.5" height="3.2" fill="#ffffff" />
<text x="303.79" y="139.2" textLength="16.47" lengthAdjust="spacingAndGlyphs" font-family='"Liberation Sans", sans-serif' font-size="4.4" font-weight="normal" fill="#e4e4e4"  stroke="#e4e4e4" stroke-width="0.2">FED Rate</text>
<text x="342.84" y="139.2" textLength="7.62" lengthAdjust="spacingAndGlyphs" font-family='"Liberation Sans", sans-serif' font-size="4.4" font-weight="normal" fill="#e4e4e4"  stroke="#e4e4e4" stroke-width="0.2">5.25</text>
<rect x="299.4" y="140.9" width="3.5" height="3.2" fill="#1e8ce6" />
<text x="304.01" y="144.1" textLength="37.17" lengthAdjust="spacingAndGlyphs" font-family='"Liberation Sans", sans-serif' font-size="4.4" font-weight="normal" fill="#e4e4e4"  stroke="#e4e4e4" stroke-width="0.2">Taylor Rule Estimate</text>
<text x="342.72" y="144.1" textLength="11.23" lengthAdjust="spacingAndGlyphs" font-family='"Liberation Sans", sans-serif' font-size="4.4" font-weight="normal" fill="#e4e4e4"  stroke="#e4e4e4" stroke-width="0.2">10.425</text>
<rect x="615.45" y="132" width="1.7" height="276.8" fill="#505050" />
<path d="M616.10 134.60 L618.20 135.80 L616.10 137.00 Z" fill="#f0f0f0"/>
<text x="619.03" y="137.25" textLength="3.92" lengthAdjust="spacingAndGlyphs" font-family='"Liberation Sans", sans-serif' font-size="4.2" font-weight="normal" fill="#d8d8d8"  stroke="#d8d8d8" stroke-width="0.12">15</text>
<path d="M616.10 165.20 L618.20 166.40 L616.10 167.60 Z" fill="#f0f0f0"/>
<text x="619.03" y="167.85" textLength="3.90" lengthAdjust="spacingAndGlyphs" font-family='"Liberation Sans", sans-serif' font-size="4.2" font-weight="normal" fill="#d8d8d8"  stroke="#d8d8d8" stroke-width="0.12">10</text>
<path d="M616.10 195.80 L618.20 197.00 L616.10 198.20 Z" fill="#f0f0f0"/>
<text x="619.15" y="198.45" textLength="2.05" lengthAdjust="spacingAndGlyphs" font-family='"Liberation Sans", sans-serif' font-size="4.2" font-weight="normal" fill="#d8d8d8"  stroke="#d8d8d8" stroke-width="0.12">5</text>
<path d="M616.10 226.40 L618.20 227.60 L616.10 228.80 Z" fill="#f0f0f0"/>
<text x="619.16" y="229.05" textLength="2.04" lengthAdjust="spacingAndGlyphs" font-family='"Liberation Sans", sans-serif' font-size="4.2" font-weight="normal" fill="#d8d8d8"  stroke="#d8d8d8" stroke-width="0.12">0</text>
<path d="M616.10 257.00 L618.20 258.20 L616.10 259.40 Z" fill="#f0f0f0"/>
<text x="619.13" y="259.65" textLength="3.43" lengthAdjust="spacingAndGlyphs" font-family='"Liberation Sans", sans-serif' font-size="4.2" font-weight="normal" fill="#d8d8d8"  stroke="#d8d8d8" stroke-width="0.12">-5</text>
<path d="M616.10 287.60 L618.20 288.80 L616.10 290.00 Z" fill="#f0f0f0"/>
<text x="619.14" y="290.25" textLength="5.15" lengthAdjust="spacingAndGlyphs" font-family='"Liberation Sans", sans-serif' font-size="4.2" font-weight="normal" fill="#d8d8d8"  stroke="#d8d8d8" stroke-width="0.12">-10</text>
<rect x="615.8" y="150.6" width="1" height="1" fill="#8a8a8a" />
<rect x="615.8" y="181.2" width="1" height="1" fill="#8a8a8a" />
<rect x="615.8" y="211.8" width="1" height="1" fill="#8a8a8a" />
<rect x="615.8" y="242.4" width="1" height="1" fill="#8a8a8a" />
<rect x="615.8" y="273" width="1" height="1" fill="#8a8a8a" />
<path d="M616.10 323.60 L618.20 324.80 L616.10 326.00 Z" fill="#f0f0f0"/>
<text x="619.03" y="326.25" textLength="3.90" lengthAdjust="spacingAndGlyphs" font-family='"Liberation Sans", sans-serif' font-size="4.2" font-weight="normal" fill="#d8d8d8"  stroke="#d8d8d8" stroke-width="0.12">10</text>
<path d="M616.10 340.30 L618.20 341.50 L616.10 342.70 Z" fill="#f0f0f0"/>
<text x="619.15" y="342.95" textLength="2.05" lengthAdjust="spacingAndGlyphs" font-family='"Liberation Sans", sans-serif' font-size="4.2" font-weight="normal" fill="#d8d8d8"  stroke="#d8d8d8" stroke-width="0.12">5</text>
<path d="M616.10 357.00 L618.20 358.20 L616.10 359.40 Z" fill="#f0f0f0"/>
<text x="619.16" y="359.65" textLength="2.04" lengthAdjust="spacingAndGlyphs" font-family='"Liberation Sans", sans-serif' font-size="4.2" font-weight="normal" fill="#d8d8d8"  stroke="#d8d8d8" stroke-width="0.12">0</text>
<path d="M616.10 373.70 L618.20 374.90 L616.10 376.10 Z" fill="#f0f0f0"/>
<text x="619.13" y="376.35" textLength="3.43" lengthAdjust="spacingAndGlyphs" font-family='"Liberation Sans", sans-serif' font-size="4.2" font-weight="normal" fill="#d8d8d8"  stroke="#d8d8d8" stroke-width="0.12">-5</text>
<path d="M616.10 390.40 L618.20 391.60 L616.10 392.80 Z" fill="#f0f0f0"/>
<text x="619.14" y="393.05" textLength="5.15" lengthAdjust="spacingAndGlyphs" font-family='"Liberation Sans", sans-serif' font-size="4.2" font-weight="normal" fill="#d8d8d8"  stroke="#d8d8d8" stroke-width="0.12">-10</text>
<rect x="615.8" y="315.95" width="1" height="1" fill="#8a8a8a" />
<rect x="615.8" y="332.65" width="1" height="1" fill="#8a8a8a" />
<rect x="615.8" y="349.35" width="1" height="1" fill="#8a8a8a" />
<rect x="615.8" y="366.05" width="1" height="1" fill="#8a8a8a" />
<rect x="615.8" y="382.75" width="1" height="1" fill="#8a8a8a" />
<rect x="615.8" y="399.45" width="1" height="1" fill="#8a8a8a" />
<rect x="296.2" y="310" width="329.8" height="1.9" fill="#4a4a4a" />
<clipPath id="up"><rect x="290" y="300" width="340" height="58.19999999999999"/></clipPath>
<clipPath id="dn"><rect x="290" y="358.2" width="340" height="60"/></clipPath>
<polygon points="296.33,358.2 296.33,358.62 297.42,358.28 298.50,358.95 299.59,359.45 300.68,357.28 301.77,357.78 302.86,357.78 303.95,357.78 305.04,358.78 306.12,358.28 307.21,358.78 308.30,358.78 309.39,360.62 310.48,361.12 311.56,362.29 312.65,362.96 313.74,364.63 314.83,365.46 315.92,364.96 317.01,364.30 318.10,364.96 319.18,365.13 320.27,366.80 321.36,366.13 322.45,365.63 323.54,365.63 324.62,364.63 325.71,364.13 326.80,364.63 327.89,363.63 328.98,363.13 330.07,364.63 331.16,363.63 332.24,363.63 333.33,363.29 334.42,362.29 335.51,363.29 336.60,361.79 337.69,361.79 338.77,360.29 339.86,360.29 340.95,359.62 342.04,360.12 343.13,359.62 344.22,359.12 345.30,360.12 346.39,360.12 347.48,360.62 348.57,360.62 349.66,361.62 350.75,362.63 351.83,364.63 352.92,364.13 354.01,364.30 355.10,364.30 356.19,363.46 357.28,364.13 358.36,363.63 359.45,364.30 360.54,363.46 361.63,364.46 362.72,363.63 363.81,363.29 364.89,362.79 365.98,362.46 367.07,361.12 368.16,361.62 369.25,361.29 370.34,359.45 371.42,359.95 372.51,359.12 373.60,359.29 374.69,358.95 375.78,358.45 376.87,358.12 377.95,359.12 379.04,359.29 380.13,359.45 381.22,359.45 382.31,359.95 383.39,361.46 384.48,360.96 385.57,359.95 386.66,360.45 387.75,359.95 388.84,360.45 389.93,359.95 391.01,358.45 392.10,358.45 393.19,357.45 394.28,356.95 395.37,356.95 396.46,358.12 397.54,359.45 398.63,359.95 399.72,359.79 400.81,364.46 401.90,363.96 402.99,365.97 404.07,366.80 405.16,364.80 406.25,364.30 407.34,363.79 408.43,362.29 409.51,362.29 410.60,362.12 411.69,359.62 412.78,358.62 413.87,355.61 414.96,353.61 416.05,351.60 417.13,350.60 418.22,348.10 419.31,347.09 420.40,346.09 421.49,345.09 422.58,344.59 423.66,344.59 424.75,345.09 425.84,345.59 426.93,345.09 428.02,343.59 429.11,342.08 430.19,341.08 431.28,342.59 432.37,343.59 433.46,343.59 434.55,343.09 435.63,342.59 436.72,342.08 437.81,341.08 438.90,343.59 439.99,345.59 441.08,346.59 442.17,347.09 443.25,347.09 444.34,348.60 445.43,348.60 446.52,350.10 447.61,351.10 448.70,351.10 449.78,352.61 450.87,354.11 451.96,354.61 453.05,356.11 454.14,355.61 455.23,356.61 456.31,356.61 457.40,356.61 458.49,356.11 459.58,355.61 460.67,355.11 461.75,357.11 462.84,357.11 463.93,357.11 465.02,356.11 466.11,355.61 467.20,357.62 468.29,358.12 469.37,356.61 470.46,357.11 471.55,356.61 472.64,358.12 473.73,359.12 474.82,358.62 475.90,358.62 476.99,360.12 478.08,361.12 479.17,361.12 480.26,360.62 481.35,361.12 482.43,364.13 483.52,364.63 484.61,365.13 485.70,364.63 486.79,364.13 487.88,365.13 488.96,366.63 490.05,365.63 491.14,366.13 492.23,365.63 493.32,367.13 494.41,368.14 495.49,368.14 496.58,366.63 497.67,368.64 498.76,369.14 499.85,369.64 500.94,370.64 502.02,370.64 503.11,370.64 504.20,370.81 505.29,372.31 506.38,372.31 507.47,371.31 508.55,370.31 509.64,372.31 510.73,371.81 511.82,372.31 512.91,372.31 514.00,371.31 515.08,371.31 516.17,372.31 517.26,371.98 518.35,372.48 519.44,372.48 520.52,371.64 521.61,371.14 522.70,370.14 523.79,369.81 524.88,369.81 525.97,369.31 527.06,369.81 528.14,370.81 529.23,370.31 530.32,370.47 531.41,370.98 532.50,370.47 533.59,371.64 534.67,371.64 535.76,373.15 536.85,371.81 537.94,373.31 539.03,372.31 540.12,371.98 541.20,370.98 542.29,371.48 543.38,370.14 544.47,369.64 545.56,370.14 546.64,369.64 547.73,371.14 548.82,370.64 549.91,371.14 551.00,371.98 552.09,372.98 553.17,374.82 554.26,374.65 555.35,374.65 556.44,374.65 557.53,375.15 558.62,375.65 559.71,374.65 560.79,319.54 561.88,326.05 562.97,337.07 564.06,343.09 565.15,352.61 566.24,355.11 567.32,359.62 568.41,360.62 569.50,360.62 570.59,361.62 571.68,361.62 572.77,364.13 573.85,371.14 574.94,376.15 576.03,379.16 577.12,380.66 578.21,380.16 579.30,382.16 580.38,386.67 581.47,389.68 582.56,394.19 583.65,396.19 584.74,399.20 585.83,399.87 586.91,398.36 588.00,395.69 589.09,392.69 590.18,390.68 591.27,391.68 592.36,391.68 593.44,389.18 594.53,385.67 595.62,383.00 596.71,383.00 597.80,380.66 598.88,380.83 599.97,380.83 601.06,377.49 602.15,375.48 603.00,375.48 603.00,358.2" fill="#157a1c" clip-path="url(#up)"/>
<polygon points="296.33,358.2 296.33,358.62 297.42,358.28 298.50,358.95 299.59,359.45 300.68,357.28 301.77,357.78 302.86,357.78 303.95,357.78 305.04,358.78 306.12,358.28 307.21,358.78 308.30,358.78 309.39,360.62 310.48,361.12 311.56,362.29 312.65,362.96 313.74,364.63 314.83,365.46 315.92,364.96 317.01,364.30 318.10,364.96 319.18,365.13 320.27,366.80 321.36,366.13 322.45,365.63 323.54,365.63 324.62,364.63 325.71,364.13 326.80,364.63 327.89,363.63 328.98,363.13 330.07,364.63 331.16,363.63 332.24,363.63 333.33,363.29 334.42,362.29 335.51,363.29 336.60,361.79 337.69,361.79 338.77,360.29 339.86,360.29 340.95,359.62 342.04,360.12 343.13,359.62 344.22,359.12 345.30,360.12 346.39,360.12 347.48,360.62 348.57,360.62 349.66,361.62 350.75,362.63 351.83,364.63 352.92,364.13 354.01,364.30 355.10,364.30 356.19,363.46 357.28,364.13 358.36,363.63 359.45,364.30 360.54,363.46 361.63,364.46 362.72,363.63 363.81,363.29 364.89,362.79 365.98,362.46 367.07,361.12 368.16,361.62 369.25,361.29 370.34,359.45 371.42,359.95 372.51,359.12 373.60,359.29 374.69,358.95 375.78,358.45 376.87,358.12 377.95,359.12 379.04,359.29 380.13,359.45 381.22,359.45 382.31,359.95 383.39,361.46 384.48,360.96 385.57,359.95 386.66,360.45 387.75,359.95 388.84,360.45 389.93,359.95 391.01,358.45 392.10,358.45 393.19,357.45 394.28,356.95 395.37,356.95 396.46,358.12 397.54,359.45 398.63,359.95 399.72,359.79 400.81,364.46 401.90,363.96 402.99,365.97 404.07,366.80 405.16,364.80 406.25,364.30 407.34,363.79 408.43,362.29 409.51,362.29 410.60,362.12 411.69,359.62 412.78,358.62 413.87,355.61 414.96,353.61 416.05,351.60 417.13,350.60 418.22,348.10 419.31,347.09 420.40,346.09 421.49,345.09 422.58,344.59 423.66,344.59 424.75,345.09 425.84,345.59 426.93,345.09 428.02,343.59 429.11,342.08 430.19,341.08 431.28,342.59 432.37,343.59 433.46,343.59 434.55,343.09 435.63,342.59 436.72,342.08 437.81,341.08 438.90,343.59 439.99,345.59 441.08,346.59 442.17,347.09 443.25,347.09 444.34,348.60 445.43,348.60 446.52,350.10 447.61,351.10 448.70,351.10 449.78,352.61 450.87,354.11 451.96,354.61 453.05,356.11 454.14,355.61 455.23,356.61 456.31,356.61 457.40,356.61 458.49,356.11 459.58,355.61 460.67,355.11 461.75,357.11 462.84,357.11 463.93,357.11 465.02,356.11 466.11,355.61 467.20,357.62 468.29,358.12 469.37,356.61 470.46,357.11 471.55,356.61 472.64,358.12 473.73,359.12 474.82,358.62 475.90,358.62 476.99,360.12 478.08,361.12 479.17,361.12 480.26,360.62 481.35,361.12 482.43,364.13 483.52,364.63 484.61,365.13 485.70,364.63 486.79,364.13 487.88,365.13 488.96,366.63 490.05,365.63 491.14,366.13 492.23,365.63 493.32,367.13 494.41,368.14 495.49,368.14 496.58,366.63 497.67,368.64 498.76,369.14 499.85,369.64 500.94,370.64 502.02,370.64 503.11,370.64 504.20,370.81 505.29,372.31 506.38,372.31 507.47,371.31 508.55,370.31 509.64,372.31 510.73,371.81 511.82,372.31 512.91,372.31 514.00,371.31 515.08,371.31 516.17,372.31 517.26,371.98 518.35,372.48 519.44,372.48 520.52,371.64 521.61,371.14 522.70,370.14 523.79,369.81 524.88,369.81 525.97,369.31 527.06,369.81 528.14,370.81 529.23,370.31 530.32,370.47 531.41,370.98 532.50,370.47 533.59,371.64 534.67,371.64 535.76,373.15 536.85,371.81 537.94,373.31 539.03,372.31 540.12,371.98 541.20,370.98 542.29,371.48 543.38,370.14 544.47,369.64 545.56,370.14 546.64,369.64 547.73,371.14 548.82,370.64 549.91,371.14 551.00,371.98 552.09,372.98 553.17,374.82 554.26,374.65 555.35,374.65 556.44,374.65 557.53,375.15 558.62,375.65 559.71,374.65 560.79,319.54 561.88,326.05 562.97,337.07 564.06,343.09 565.15,352.61 566.24,355.11 567.32,359.62 568.41,360.62 569.50,360.62 570.59,361.62 571.68,361.62 572.77,364.13 573.85,371.14 574.94,376.15 576.03,379.16 577.12,380.66 578.21,380.16 579.30,382.16 580.38,386.67 581.47,389.68 582.56,394.19 583.65,396.19 584.74,399.20 585.83,399.87 586.91,398.36 588.00,395.69 589.09,392.69 590.18,390.68 591.27,391.68 592.36,391.68 593.44,389.18 594.53,385.67 595.62,383.00 596.71,383.00 597.80,380.66 598.88,380.83 599.97,380.83 601.06,377.49 602.15,375.48 603.00,375.48 603.00,358.2" fill="#7a1026" clip-path="url(#dn)"/>
<line x1="298.5" y1="318.12" x2="298.5" y2="401.62" stroke="#000000" stroke-width="1" opacity="0.13"/>
<line x1="301.5" y1="318.12" x2="301.5" y2="401.62" stroke="#000000" stroke-width="1" opacity="0.13"/>
<line x1="305.5" y1="318.12" x2="305.5" y2="401.62" stroke="#000000" stroke-width="1" opacity="0.13"/>
<line x1="308.5" y1="318.12" x2="308.5" y2="401.62" stroke="#000000" stroke-width="1" opacity="0.13"/>
<line x1="311.5" y1="318.12" x2="311.5" y2="401.62" stroke="#000000" stroke-width="1" opacity="0.13"/>
<line x1="314.5" y1="318.12" x2="314.5" y2="401.62" stroke="#000000" stroke-width="1" opacity="0.13"/>
<line x1="318.5" y1="318.12" x2="318.5" y2="401.62" stroke="#000000" stroke-width="1" opacity="0.13"/>
<line x1="321.5" y1="318.12" x2="321.5" y2="401.62" stroke="#000000" stroke-width="1" opacity="0.13"/>
<line x1="324.5" y1="318.12" x2="324.5" y2="401.62" stroke="#000000" stroke-width="1" opacity="0.13"/>
<line x1="327.5" y1="318.12" x2="327.5" y2="401.62" stroke="#000000" stroke-width="1" opacity="0.13"/>
<line x1="331.5" y1="318.12" x2="331.5" y2="401.62" stroke="#000000" stroke-width="1" opacity="0.13"/>
<line x1="334.5" y1="318.12" x2="334.5" y2="401.62" stroke="#000000" stroke-width="1" opacity="0.13"/>
<line x1="337.5" y1="318.12" x2="337.5" y2="401.62" stroke="#000000" stroke-width="1" opacity="0.13"/>
<line x1="340.5" y1="318.12" x2="340.5" y2="401.62" stroke="#000000" stroke-width="1" opacity="0.13"/>
<line x1="344.5" y1="318.12" x2="344.5" y2="401.62" stroke="#000000" stroke-width="1" opacity="0.13"/>
<line x1="347.5" y1="318.12" x2="347.5" y2="401.62" stroke="#000000" stroke-width="1" opacity="0.13"/>
<line x1="350.5" y1="318.12" x2="350.5" y2="401.62" stroke="#000000" stroke-width="1" opacity="0.13"/>
<line x1="354.5" y1="318.12" x2="354.5" y2="401.62" stroke="#000000" stroke-width="1" opacity="0.13"/>
<line x1="357.5" y1="318.12" x2="357.5" y2="401.62" stroke="#000000" stroke-width="1" opacity="0.13"/>
<line x1="360.5" y1="318.12" x2="360.5" y2="401.62" stroke="#000000" stroke-width="1" opacity="0.13"/>
<line x1="363.5" y1="318.12" x2="363.5" y2="401.62" stroke="#000000" stroke-width="1" opacity="0.13"/>
<line x1="367.5" y1="318.12" x2="367.5" y2="401.62" stroke="#000000" stroke-width="1" opacity="0.13"/>
<line x1="370.5" y1="318.12" x2="370.5" y2="401.62" stroke="#000000" stroke-width="1" opacity="0.13"/>
<line x1="373.5" y1="318.12" x2="373.5" y2="401.62" stroke="#000000" stroke-width="1" opacity="0.13"/>
<line x1="376.5" y1="318.12" x2="376.5" y2="401.62" stroke="#000000" stroke-width="1" opacity="0.13"/>
<line x1="380.5" y1="318.12" x2="380.5" y2="401.62" stroke="#000000" stroke-width="1" opacity="0.13"/>
<line x1="383.5" y1="318.12" x2="383.5" y2="401.62" stroke="#000000" stroke-width="1" opacity="0.13"/>
<line x1="386.5" y1="318.12" x2="386.5" y2="401.62" stroke="#000000" stroke-width="1" opacity="0.13"/>
<line x1="389.5" y1="318.12" x2="389.5" y2="401.62" stroke="#000000" stroke-width="1" opacity="0.13"/>
<line x1="393.5" y1="318.12" x2="393.5" y2="401.62" stroke="#000000" stroke-width="1" opacity="0.13"/>
<line x1="396.5" y1="318.12" x2="396.5" y2="401.62" stroke="#000000" stroke-width="1" opacity="0.13"/>
<line x1="399.5" y1="318.12" x2="399.5" y2="401.62" stroke="#000000" stroke-width="1" opacity="0.13"/>
<line x1="402.5" y1="318.12" x2="402.5" y2="401.62" stroke="#000000" stroke-width="1" opacity="0.13"/>
<line x1="406.5" y1="318.12" x2="406.5" y2="401.62" stroke="#000000" stroke-width="1" opacity="0.13"/>
<line x1="409.5" y1="318.12" x2="409.5" y2="401.62" stroke="#000000" stroke-width="1" opacity="0.13"/>
<line x1="412.5" y1="318.12" x2="412.5" y2="401.62" stroke="#000000" stroke-width="1" opacity="0.13"/>
<line x1="416.5" y1="318.12" x2="416.5" y2="401.62" stroke="#000000" stroke-width="1" opacity="0.13"/>
<line x1="419.5" y1="318.12" x2="419.5" y2="401.62" stroke="#000000" stroke-width="1" opacity="0.13"/>
<line x1="422.5" y1="318.12" x2="422.5" y2="401.62" stroke="#000000" stroke-width="1" opacity="0.13"/>
<line x1="425.5" y1="318.12" x2="425.5" y2="401.62" stroke="#000000" stroke-width="1" opacity="0.13"/>
<line x1="429.5" y1="318.12" x2="429.5" y2="401.62" stroke="#000000" stroke-width="1" opacity="0.13"/>
<line x1="432.5" y1="318.12" x2="432.5" y2="401.62" stroke="#000000" stroke-width="1" opacity="0.13"/>
<line x1="435.5" y1="318.12" x2="435.5" y2="401.62" stroke="#000000" stroke-width="1" opacity="0.13"/>
<line x1="438.5" y1="318.12" x2="438.5" y2="401.62" stroke="#000000" stroke-width="1" opacity="0.13"/>
<line x1="442.5" y1="318.12" x2="442.5" y2="401.62" stroke="#000000" stroke-width="1" opacity="0.13"/>
<line x1="445.5" y1="318.12" x2="445.5" y2="401.62" stroke="#000000" stroke-width="1" opacity="0.13"/>
<line x1="448.5" y1="318.12" x2="448.5" y2="401.62" stroke="#000000" stroke-width="1" opacity="0.13"/>
<line x1="451.5" y1="318.12" x2="451.5" y2="401.62" stroke="#000000" stroke-width="1" opacity="0.13"/>
<line x1="455.5" y1="318.12" x2="455.5" y2="401.62" stroke="#000000" stroke-width="1" opacity="0.13"/>
<line x1="458.5" y1="318.12" x2="458.5" y2="401.62" stroke="#000000" stroke-width="1" opacity="0.13"/>
<line x1="461.5" y1="318.12" x2="461.5" y2="401.62" stroke="#000000" stroke-width="1" opacity="0.13"/>
<line x1="465.5" y1="318.12" x2="465.5" y2="401.62" stroke="#000000" stroke-width="1" opacity="0.13"/>
<line x1="468.5" y1="318.12" x2="468.5" y2="401.62" stroke="#000000" stroke-width="1" opacity="0.13"/>
<line x1="471.5" y1="318.12" x2="471.5" y2="401.62" stroke="#000000" stroke-width="1" opacity="0.13"/>
<line x1="474.5" y1="318.12" x2="474.5" y2="401.62" stroke="#000000" stroke-width="1" opacity="0.13"/>
<line x1="478.5" y1="318.12" x2="478.5" y2="401.62" stroke="#000000" stroke-width="1" opacity="0.13"/>
<line x1="481.5" y1="318.12" x2="481.5" y2="401.62" stroke="#000000" stroke-width="1" opacity="0.13"/>
<line x1="484.5" y1="318.12" x2="484.5" y2="401.62" stroke="#000000" stroke-width="1" opacity="0.13"/>
<line x1="487.5" y1="318.12" x2="487.5" y2="401.62" stroke="#000000" stroke-width="1" opacity="0.13"/>
<line x1="491.5" y1="318.12" x2="491.5" y2="401.62" stroke="#000000" stroke-width="1" opacity="0.13"/>
<line x1="494.5" y1="318.12" x2="494.5" y2="401.62" stroke="#000000" stroke-width="1" opacity="0.13"/>
<line x1="497.5" y1="318.12" x2="497.5" y2="401.62" stroke="#000000" stroke-width="1" opacity="0.13"/>
<line x1="500.5" y1="318.12" x2="500.5" y2="401.62" stroke="#000000" stroke-width="1" opacity="0.13"/>
<line x1="504.5" y1="318.12" x2="504.5" y2="401.62" stroke="#000000" stroke-width="1" opacity="0.13"/>
<line x1="507.5" y1="318.12" x2="507.5" y2="401.62" stroke="#000000" stroke-width="1" opacity="0.13"/>
<line x1="510.5" y1="318.12" x2="510.5" y2="401.62" stroke="#000000" stroke-width="1" opacity="0.13"/>
<line x1="513.5" y1="318.12" x2="513.5" y2="401.62" stroke="#000000" stroke-width="1" opacity="0.13"/>
<line x1="517.5" y1="318.12" x2="517.5" y2="401.62" stroke="#000000" stroke-width="1" opacity="0.13"/>
<line x1="520.5" y1="318.12" x2="520.5" y2="401.62" stroke="#000000" stroke-width="1" opacity="0.13"/>
<line x1="523.5" y1="318.12" x2="523.5" y2="401.62" stroke="#000000" stroke-width="1" opacity="0.13"/>
<line x1="527.5" y1="318.12" x2="527.5" y2="401.62" stroke="#000000" stroke-width="1" opacity="0.13"/>
<line x1="530.5" y1="318.12" x2="530.5" y2="401.62" stroke="#000000" stroke-width="1" opacity="0.13"/>
<line x1="533.5" y1="318.12" x2="533.5" y2="401.62" stroke="#000000" stroke-width="1" opacity="0.13"/>
<line x1="536.5" y1="318.12" x2="536.5" y2="401.62" stroke="#000000" stroke-width="1" opacity="0.13"/>
<line x1="540.5" y1="318.12" x2="540.5" y2="401.62" stroke="#000000" stroke-width="1" opacity="0.13"/>
<line x1="543.5" y1="318.12" x2="543.5" y2="401.62" stroke="#000000" stroke-width="1" opacity="0.13"/>
<line x1="546.5" y1="318.12" x2="546.5" y2="401.62" stroke="#000000" stroke-width="1" opacity="0.13"/>
<line x1="549.5" y1="318.12" x2="549.5" y2="401.62" stroke="#000000" stroke-width="1" opacity="0.13"/>
<line x1="553.5" y1="318.12" x2="553.5" y2="401.62" stroke="#000000" stroke-width="1" opacity="0.13"/>
<line x1="556.5" y1="318.12" x2="556.5" y2="401.62" stroke="#000000" stroke-width="1" opacity="0.13"/>
<line x1="559.5" y1="318.12" x2="559.5" y2="401.62" stroke="#000000" stroke-width="1" opacity="0.13"/>
<line x1="562.5" y1="318.12" x2="562.5" y2="401.62" stroke="#000000" stroke-width="1" opacity="0.13"/>
<line x1="566.5" y1="318.12" x2="566.5" y2="401.62" stroke="#000000" stroke-width="1" opacity="0.13"/>
<line x1="569.5" y1="318.12" x2="569.5" y2="401.62" stroke="#000000" stroke-width="1" opacity="0.13"/>
<line x1="572.5" y1="318.12" x2="572.5" y2="401.62" stroke="#000000" stroke-width="1" opacity="0.13"/>
<line x1="576.5" y1="318.12" x2="576.5" y2="401.62" stroke="#000000" stroke-width="1" opacity="0.13"/>
<line x1="579.5" y1="318.12" x2="579.5" y2="401.62" stroke="#000000" stroke-width="1" opacity="0.13"/>
<line x1="582.5" y1="318.12" x2="582.5" y2="401.62" stroke="#000000" stroke-width="1" opacity="0.13"/>
<line x1="585.5" y1="318.12" x2="585.5" y2="401.62" stroke="#000000" stroke-width="1" opacity="0.13"/>
<line x1="589.5" y1="318.12" x2="589.5" y2="401.62" stroke="#000000" stroke-width="1" opacity="0.13"/>
<line x1="592.5" y1="318.12" x2="592.5" y2="401.62" stroke="#000000" stroke-width="1" opacity="0.13"/>
<line x1="595.5" y1="318.12" x2="595.5" y2="401.62" stroke="#000000" stroke-width="1" opacity="0.13"/>
<line x1="598.5" y1="318.12" x2="598.5" y2="401.62" stroke="#000000" stroke-width="1" opacity="0.13"/>
<line x1="602.5" y1="318.12" x2="602.5" y2="401.62" stroke="#000000" stroke-width="1" opacity="0.13"/>
<polyline points="296.33,358.62 297.42,358.28 298.50,358.95 299.59,359.45 300.68,357.28 301.77,357.78 302.86,357.78 303.95,357.78 305.04,358.78 306.12,358.28 307.21,358.78 308.30,358.78 309.39,360.62 310.48,361.12 311.56,362.29 312.65,362.96 313.74,364.63 314.83,365.46 315.92,364.96 317.01,364.30 318.10,364.96 319.18,365.13 320.27,366.80 321.36,366.13 322.45,365.63 323.54,365.63 324.62,364.63 325.71,364.13 326.80,364.63 327.89,363.63 328.98,363.13 330.07,364.63 331.16,363.63 332.24,363.63 333.33,363.29 334.42,362.29 335.51,363.29 336.60,361.79 337.69,361.79 338.77,360.29 339.86,360.29 340.95,359.62 342.04,360.12 343.13,359.62 344.22,359.12 345.30,360.12 346.39,360.12 347.48,360.62 348.57,360.62 349.66,361.62 350.75,362.63 351.83,364.63 352.92,364.13 354.01,364.30 355.10,364.30 356.19,363.46 357.28,364.13 358.36,363.63 359.45,364.30 360.54,363.46 361.63,364.46 362.72,363.63 363.81,363.29 364.89,362.79 365.98,362.46 367.07,361.12 368.16,361.62 369.25,361.29 370.34,359.45 371.42,359.95 372.51,359.12 373.60,359.29 374.69,358.95 375.78,358.45 376.87,358.12 377.95,359.12 379.04,359.29 380.13,359.45 381.22,359.45 382.31,359.95 383.39,361.46 384.48,360.96 385.57,359.95 386.66,360.45 387.75,359.95 388.84,360.45 389.93,359.95 391.01,358.45 392.10,358.45 393.19,357.45 394.28,356.95 395.37,356.95 396.46,358.12 397.54,359.45 398.63,359.95 399.72,359.79 400.81,364.46 401.90,363.96 402.99,365.97 404.07,366.80 405.16,364.80 406.25,364.30 407.34,363.79 408.43,362.29 409.51,362.29 410.60,362.12 411.69,359.62 412.78,358.62 413.87,355.61 414.96,353.61 416.05,351.60 417.13,350.60 418.22,348.10 419.31,347.09 420.40,346.09 421.49,345.09 422.58,344.59 423.66,344.59 424.75,345.09 425.84,345.59 426.93,345.09 428.02,343.59 429.11,342.08 430.19,341.08 431.28,342.59 432.37,343.59 433.46,343.59 434.55,343.09 435.63,342.59 436.72,342.08 437.81,341.08 438.90,343.59 439.99,345.59 441.08,346.59 442.17,347.09 443.25,347.09 444.34,348.60 445.43,348.60 446.52,350.10 447.61,351.10 448.70,351.10 449.78,352.61 450.87,354.11 451.96,354.61 453.05,356.11 454.14,355.61 455.23,356.61 456.31,356.61 457.40,356.61 458.49,356.11 459.58,355.61 460.67,355.11 461.75,357.11 462.84,357.11 463.93,357.11 465.02,356.11 466.11,355.61 467.20,357.62 468.29,358.12 469.37,356.61 470.46,357.11 471.55,356.61 472.64,358.12 473.73,359.12 474.82,358.62 475.90,358.62 476.99,360.12 478.08,361.12 479.17,361.12 480.26,360.62 481.35,361.12 482.43,364.13 483.52,364.63 484.61,365.13 485.70,364.63 486.79,364.13 487.88,365.13 488.96,366.63 490.05,365.63 491.14,366.13 492.23,365.63 493.32,367.13 494.41,368.14 495.49,368.14 496.58,366.63 497.67,368.64 498.76,369.14 499.85,369.64 500.94,370.64 502.02,370.64 503.11,370.64 504.20,370.81 505.29,372.31 506.38,372.31 507.47,371.31 508.55,370.31 509.64,372.31 510.73,371.81 511.82,372.31 512.91,372.31 514.00,371.31 515.08,371.31 516.17,372.31 517.26,371.98 518.35,372.48 519.44,372.48 520.52,371.64 521.61,371.14 522.70,370.14 523.79,369.81 524.88,369.81 525.97,369.31 527.06,369.81 528.14,370.81 529.23,370.31 530.32,370.47 531.41,370.98 532.50,370.47 533.59,371.64 534.67,371.64 535.76,373.15 536.85,371.81 537.94,373.31 539.03,372.31 540.12,371.98 541.20,370.98 542.29,371.48 543.38,370.14 544.47,369.64 545.56,370.14 546.64,369.64 547.73,371.14 548.82,370.64 549.91,371.14 551.00,371.98 552.09,372.98 553.17,374.82 554.26,374.65 555.35,374.65 556.44,374.65 557.53,375.15 558.62,375.65 559.71,374.65 560.79,319.54 561.88,326.05 562.97,337.07 564.06,343.09 565.15,352.61 566.24,355.11 567.32,359.62 568.41,360.62 569.50,360.62 570.59,361.62 571.68,361.62 572.77,364.13 573.85,371.14 574.94,376.15 576.03,379.16 577.12,380.66 578.21,380.16 579.30,382.16 580.38,386.67 581.47,389.68 582.56,394.19 583.65,396.19 584.74,399.20 585.83,399.87 586.91,398.36 588.00,395.69 589.09,392.69 590.18,390.68 591.27,391.68 592.36,391.68 593.44,389.18 594.53,385.67 595.62,383.00 596.71,383.00 597.80,380.66 598.88,380.83 599.97,380.83 601.06,377.49 602.15,375.48 603.00,375.48" fill="none" stroke="#e4e4e4" stroke-width="0.9" stroke-linejoin="round"/>
<rect x="298.3" y="314" width="58.3" height="6.6" fill="#141414" />
<rect x="299.6" y="316" width="3.2" height="3.2" fill="#ffffff" />
<text x="304.32" y="319" textLength="50.15" lengthAdjust="spacingAndGlyphs" font-family='"Liberation Sans", sans-serif' font-size="4.4" font-weight="normal" fill="#e4e4e4"  stroke="#e4e4e4" stroke-width="0.2">Spread: FED - Taylor -5.175</text>
<rect x="559.793" y="318.539" width="2" height="2" fill="#ffffff" />
<rect x="584.825" y="398.866" width="2" height="2" fill="#ffffff" />
<text x="550.37" y="318.6" textLength="20.71" lengthAdjust="spacingAndGlyphs" font-family='"Liberation Sans", sans-serif' font-size="4.4" font-weight="normal" fill="#e4e4e4"  stroke="#e4e4e4" stroke-width="0.2">Hi: 11.5268</text>
<text x="572.96" y="404.4" textLength="26.15" lengthAdjust="spacingAndGlyphs" font-family='"Liberation Sans", sans-serif' font-size="4.4" font-weight="normal" fill="#e4e4e4"  stroke="#e4e4e4" stroke-width="0.2">Low: -12.4367</text>
<line x1="602.999" y1="375.484" x2="616.3" y2="375.484" stroke="#d8d8d8" stroke-width="0.8" />
<text x="604.58" y="378.9" textLength="7.43" lengthAdjust="spacingAndGlyphs" font-family='"Liberation Sans", sans-serif' font-size="3.4" font-weight="normal" fill="#b0b0b0" >-5.175</text>
<text x="604.30" y="382.2" textLength="11.39" lengthAdjust="spacingAndGlyphs" font-family='"Liberation Sans", sans-serif' font-size="3.2" font-weight="normal" fill="#b0b0b0" >-4017.69%</text>
<rect x="296.2" y="407.2" width="320.1" height="1.5" fill="#4a4a4a" />
<rect x="296.2" y="418" width="331.6" height="1" fill="#363636" />
<text x="296.81" y="412.8" textLength="6.05" lengthAdjust="spacingAndGlyphs" font-family='"Liberation Sans", sans-serif' font-size="4.2" font-weight="normal" fill="#d4d4d4"  stroke="#d4d4d4" stroke-width="0.1">Mar</text>
<text x="297.11" y="417.1" textLength="8.54" lengthAdjust="spacingAndGlyphs" font-family='"Liberation Sans", sans-serif' font-size="4.2" font-weight="normal" fill="#d4d4d4"  stroke="#d4d4d4" stroke-width="0.1">2000</text>
<line x1="308.3" y1="413" x2="308.3" y2="418" stroke="#343434" stroke-width="0.9" />
<line x1="305" y1="408.7" x2="305" y2="413" stroke="#343434" stroke-width="0.9" />
<text x="305.22" y="412.8" textLength="6.18" lengthAdjust="spacingAndGlyphs" font-family='"Liberation Sans", sans-serif' font-size="4.2" font-weight="normal" fill="#d4d4d4"  stroke="#d4d4d4" stroke-width="0.1">Dec</text>
<text x="311.71" y="412.8" textLength="3.59" lengthAdjust="spacingAndGlyphs" font-family='"Liberation Sans", sans-serif' font-size="4.2" font-weight="normal" fill="#d4d4d4"  stroke="#d4d4d4" stroke-width="0.1">...</text>
<text x="310.42" y="417.1" textLength="8.06" lengthAdjust="spacingAndGlyphs" font-family='"Liberation Sans", sans-serif' font-size="4.2" font-weight="normal" fill="#d4d4d4"  stroke="#d4d4d4" stroke-width="0.1">2001</text>
<line x1="321.36" y1="413" x2="321.36" y2="418" stroke="#343434" stroke-width="0.9" />
<line x1="318.06" y1="408.7" x2="318.06" y2="413" stroke="#343434" stroke-width="0.9" />
<text x="318.28" y="412.8" textLength="6.18" lengthAdjust="spacingAndGlyphs" font-family='"Liberation Sans", sans-serif' font-size="4.2" font-weight="normal" fill="#d4d4d4"  stroke="#d4d4d4" stroke-width="0.1">Dec</text>
<text x="324.77" y="412.8" textLength="3.59" lengthAdjust="spacingAndGlyphs" font-family='"Liberation Sans", sans-serif' font-size="4.2" font-weight="normal" fill="#d4d4d4"  stroke="#d4d4d4" stroke-width="0.1">...</text>
<text x="323.27" y="417.1" textLength="8.48" lengthAdjust="spacingAndGlyphs" font-family='"Liberation Sans", sans-serif' font-size="4.2" font-weight="normal" fill="#d4d4d4"  stroke="#d4d4d4" stroke-width="0.1">2002</text>
<line x1="334.42" y1="413" x2="334.42" y2="418" stroke="#343434" stroke-width="0.9" />
<line x1="331.12" y1="408.7" x2="331.12" y2="413" stroke="#343434" stroke-width="0.9" />
<text x="331.34" y="412.8" textLength="6.18" lengthAdjust="spacingAndGlyphs" font-family='"Liberation Sans", sans-serif' font-size="4.2" font-weight="normal" fill="#d4d4d4"  stroke="#d4d4d4" stroke-width="0.1">Dec</text>
<text x="337.83" y="412.8" textLength="3.59" lengthAdjust="spacingAndGlyphs" font-family='"Liberation Sans", sans-serif' font-size="4.2" font-weight="normal" fill="#d4d4d4"  stroke="#d4d4d4" stroke-width="0.1">...</text>
<text x="336.33" y="417.1" textLength="8.46" lengthAdjust="spacingAndGlyphs" font-family='"Liberation Sans", sans-serif' font-size="4.2" font-weight="normal" fill="#d4d4d4"  stroke="#d4d4d4" stroke-width="0.1">2003</text>
<line x1="347.48" y1="413" x2="347.48" y2="418" stroke="#343434" stroke-width="0.9" />
<line x1="344.18" y1="408.7" x2="344.18" y2="413" stroke="#343434" stroke-width="0.9" />
<text x="344.40" y="412.8" textLength="6.18" lengthAdjust="spacingAndGlyphs" font-family='"Liberation Sans", sans-serif' font-size="4.2" font-weight="normal" fill="#d4d4d4"  stroke="#d4d4d4" stroke-width="0.1">Dec</text>
<text x="350.89" y="412.8" textLength="3.59" lengthAdjust="spacingAndGlyphs" font-family='"Liberation Sans", sans-serif' font-size="4.2" font-weight="normal" fill="#d4d4d4"  stroke="#d4d4d4" stroke-width="0.1">...</text>
<text x="349.39" y="417.1" textLength="8.40" lengthAdjust="spacingAndGlyphs" font-family='"Liberation Sans", sans-serif' font-size="4.2" font-weight="normal" fill="#d4d4d4"  stroke="#d4d4d4" stroke-width="0.1">2004</text>
<line x1="360.54" y1="413" x2="360.54" y2="418" stroke="#343434" stroke-width="0.9" />
<line x1="357.24" y1="408.7" x2="357.24" y2="413" stroke="#343434" stroke-width="0.9" />
<text x="357.46" y="412.8" textLength="6.18" lengthAdjust="spacingAndGlyphs" font-family='"Liberation Sans", sans-serif' font-size="4.2" font-weight="normal" fill="#d4d4d4"  stroke="#d4d4d4" stroke-width="0.1">Dec</text>
<text x="363.95" y="412.8" textLength="3.59" lengthAdjust="spacingAndGlyphs" font-family='"Liberation Sans", sans-serif' font-size="4.2" font-weight="normal" fill="#d4d4d4"  stroke="#d4d4d4" stroke-width="0.1">...</text>
<text x="362.45" y="417.1" textLength="8.45" lengthAdjust="spacingAndGlyphs" font-family='"Liberation Sans", sans-serif' font-size="4.2" font-weight="normal" fill="#d4d4d4"  stroke="#d4d4d4" stroke-width="0.1">2005</text>
<line x1="373.6" y1="413" x2="373.6" y2="418" stroke="#343434" stroke-width="0.9" />
<line x1="370.3" y1="408.7" x2="370.3" y2="413" stroke="#343434" stroke-width="0.9" />
<text x="370.52" y="412.8" textLength="6.18" lengthAdjust="spacingAndGlyphs" font-family='"Liberation Sans", sans-serif' font-size="4.2" font-weight="normal" fill="#d4d4d4"  stroke="#d4d4d4" stroke-width="0.1">Dec</text>
<text x="377.01" y="412.8" textLength="3.59" lengthAdjust="spacingAndGlyphs" font-family='"Liberation Sans", sans-serif' font-size="4.2" font-weight="normal" fill="#d4d4d4"  stroke="#d4d4d4" stroke-width="0.1">...</text>
<text x="375.51" y="417.1" textLength="8.46" lengthAdjust="spacingAndGlyphs" font-family='"Liberation Sans", sans-serif' font-size="4.2" font-weight="normal" fill="#d4d4d4"  stroke="#d4d4d4" stroke-width="0.1">2006</text>
<line x1="386.66" y1="413" x2="386.66" y2="418" stroke="#343434" stroke-width="0.9" />
<line x1="383.36" y1="408.7" x2="383.36" y2="413" stroke="#343434" stroke-width="0.9" />
<text x="383.58" y="412.8" textLength="6.18" lengthAdjust="spacingAndGlyphs" font-family='"Liberation Sans", sans-serif' font-size="4.2" font-weight="normal" fill="#d4d4d4"  stroke="#d4d4d4" stroke-width="0.1">Dec</text>
<text x="390.07" y="412.8" textLength="3.59" lengthAdjust="spacingAndGlyphs" font-family='"Liberation Sans", sans-serif' font-size="4.2" font-weight="normal" fill="#d4d4d4"  stroke="#d4d4d4" stroke-width="0.1">...</text>
<text x="388.57" y="417.1" textLength="8.48" lengthAdjust="spacingAndGlyphs" font-family='"Liberation Sans", sans-serif' font-size="4.2" font-weight="normal" fill="#d4d4d4"  stroke="#d4d4d4" stroke-width="0.1">2007</text>
<line x1="399.72" y1="413" x2="399.72" y2="418" stroke="#343434" stroke-width="0.9" />
<line x1="396.42" y1="408.7" x2="396.42" y2="413" stroke="#343434" stroke-width="0.9" />
<text x="396.64" y="412.8" textLength="6.18" lengthAdjust="spacingAndGlyphs" font-family='"Liberation Sans", sans-serif' font-size="4.2" font-weight="normal" fill="#d4d4d4"  stroke="#d4d4d4" stroke-width="0.1">Dec</text>
<text x="403.13" y="412.8" textLength="3.59" lengthAdjust="spacingAndGlyphs" font-family='"Liberation Sans", sans-serif' font-size="4.2" font-weight="normal" fill="#d4d4d4"  stroke="#d4d4d4" stroke-width="0.1">...</text>
<text x="401.63" y="417.1" textLength="8.46" lengthAdjust="spacingAndGlyphs" font-family='"Liberation Sans", sans-serif' font-size="4.2" font-weight="normal" fill="#d4d4d4"  stroke="#d4d4d4" stroke-width="0.1">2008</text>
<line x1="412.78" y1="413" x2="412.78" y2="418" stroke="#343434" stroke-width="0.9" />
<line x1="409.48" y1="408.7" x2="409.48" y2="413" stroke="#343434" stroke-width="0.9" />
<text x="409.70" y="412.8" textLength="6.18" lengthAdjust="spacingAndGlyphs" font-family='"Liberation Sans", sans-serif' font-size="4.2" font-weight="normal" fill="#d4d4d4"  stroke="#d4d4d4" stroke-width="0.1">Dec</text>
<text x="416.19" y="412.8" textLength="3.59" lengthAdjust="spacingAndGlyphs" font-family='"Liberation Sans", sans-serif' font-size="4.2" font-weight="normal" fill="#d4d4d4"  stroke="#d4d4d4" stroke-width="0.1">...</text>
<text x="414.69" y="417.1" textLength="8.47" lengthAdjust="spacingAndGlyphs" font-family='"Liberation Sans", sans-serif' font-size="4.2" font-weight="normal" fill="#d4d4d4"  stroke="#d4d4d4" stroke-width="0.1">2009</text>
<line x1="425.84" y1="413" x2="425.84" y2="418" stroke="#343434" stroke-width="0.9" />
<line x1="422.54" y1="408.7" x2="422.54" y2="413" stroke="#343434" stroke-width="0.9" />
<text x="422.76" y="412.8" textLength="6.18" lengthAdjust="spacingAndGlyphs" font-family='"Liberation Sans", sans-serif' font-size="4.2" font-weight="normal" fill="#d4d4d4"  stroke="#d4d4d4" stroke-width="0.1">Dec</text>
<text x="429.25" y="412.8" textLength="3.59" lengthAdjust="spacingAndGlyphs" font-family='"Liberation Sans", sans-serif' font-size="4.2" font-weight="normal" fill="#d4d4d4"  stroke="#d4d4d4" stroke-width="0.1">...</text>
<text x="427.96" y="417.1" textLength="8.02" lengthAdjust="spacingAndGlyphs" font-family='"Liberation Sans", sans-serif' font-size="4.2" font-weight="normal" fill="#d4d4d4"  stroke="#d4d4d4" stroke-width="0.1">2010</text>
<line x1="438.9" y1="413" x2="438.9" y2="418" stroke="#343434" stroke-width="0.9" />
<line x1="435.6" y1="408.7" x2="435.6" y2="413" stroke="#343434" stroke-width="0.9" />
<text x="435.82" y="412.8" textLength="6.18" lengthAdjust="spacingAndGlyphs" font-family='"Liberation Sans", sans-serif' font-size="4.2" font-weight="normal" fill="#d4d4d4"  stroke="#d4d4d4" stroke-width="0.1">Dec</text>
<text x="442.31" y="412.8" textLength="3.59" lengthAdjust="spacingAndGlyphs" font-family='"Liberation Sans", sans-serif' font-size="4.2" font-weight="normal" fill="#d4d4d4"  stroke="#d4d4d4" stroke-width="0.1">...</text>
<text x="441.02" y="417.1" textLength="8.06" lengthAdjust="spacingAndGlyphs" font-family='"Liberation Sans", sans-serif' font-size="4.2" font-weight="normal" fill="#d4d4d4"  stroke="#d4d4d4" stroke-width="0.1">2011</text>
<line x1="451.96" y1="413" x2="451.96" y2="418" stroke="#343434" stroke-width="0.9" />
<line x1="448.66" y1="408.7" x2="448.66" y2="413" stroke="#343434" stroke-width="0.9" />
<text x="448.88" y="412.8" textLength="6.18" lengthAdjust="spacingAndGlyphs" font-family='"Liberation Sans", sans-serif' font-size="4.2" font-weight="normal" fill="#d4d4d4"  stroke="#d4d4d4" stroke-width="0.1">Dec</text>
<text x="455.37" y="412.8" textLength="3.59" lengthAdjust="spacingAndGlyphs" font-family='"Liberation Sans", sans-serif' font-size="4.2" font-weight="normal" fill="#d4d4d4"  stroke="#d4d4d4" stroke-width="0.1">...</text>
<text x="454.08" y="417.1" textLength="8.06" lengthAdjust="spacingAndGlyphs" font-family='"Liberation Sans", sans-serif' font-size="4.2" font-weight="normal" fill="#d4d4d4"  stroke="#d4d4d4" stroke-width="0.1">2012</text>
<line x1="465.02" y1="413" x2="465.02" y2="418" stroke="#343434" stroke-width="0.9" />
<line x1="461.72" y1="408.7" x2="461.72" y2="413" stroke="#343434" stroke-width="0.9" />
<text x="461.94" y="412.8" textLength="6.18" lengthAdjust="spacingAndGlyphs" font-family='"Liberation Sans", sans-serif' font-size="4.2" font-weight="normal" fill="#d4d4d4"  stroke="#d4d4d4" stroke-width="0.1">Dec</text>
<text x="468.43" y="412.8" textLength="3.59" lengthAdjust="spacingAndGlyphs" font-family='"Liberation Sans", sans-serif' font-size="4.2" font-weight="normal" fill="#d4d4d4"  stroke="#d4d4d4" stroke-width="0.1">...</text>
<text x="467.14" y="417.1" textLength="8.04" lengthAdjust="spacingAndGlyphs" font-family='"Liberation Sans", sans-serif' font-size="4.2" font-weight="normal" fill="#d4d4d4"  stroke="#d4d4d4" stroke-width="0.1">2013</text>
<line x1="478.08" y1="413" x2="478.08" y2="418" stroke="#343434" stroke-width="0.9" />
<line x1="474.78" y1="408.7" x2="474.78" y2="413" stroke="#343434" stroke-width="0.9" />
<text x="475.00" y="412.8" textLength="6.18" lengthAdjust="spacingAndGlyphs" font-family='"Liberation Sans", sans-serif' font-size="4.2" font-weight="normal" fill="#d4d4d4"  stroke="#d4d4d4" stroke-width="0.1">Dec</text>
<text x="481.49" y="412.8" textLength="3.59" lengthAdjust="spacingAndGlyphs" font-family='"Liberation Sans", sans-serif' font-size="4.2" font-weight="normal" fill="#d4d4d4"  stroke="#d4d4d4" stroke-width="0.1">...</text>
<text x="480.20" y="417.1" textLength="7.99" lengthAdjust="spacingAndGlyphs" font-family='"Liberation Sans", sans-serif' font-size="4.2" font-weight="normal" fill="#d4d4d4"  stroke="#d4d4d4" stroke-width="0.1">2014</text>
<line x1="491.14" y1="413" x2="491.14" y2="418" stroke="#343434" stroke-width="0.9" />
<line x1="487.84" y1="408.7" x2="487.84" y2="413" stroke="#343434" stroke-width="0.9" />
<text x="488.06" y="412.8" textLength="6.18" lengthAdjust="spacingAndGlyphs" font-family='"Liberation Sans", sans-serif' font-size="4.2" font-weight="normal" fill="#d4d4d4"  stroke="#d4d4d4" stroke-width="0.1">Dec</text>
<text x="494.55" y="412.8" textLength="3.59" lengthAdjust="spacingAndGlyphs" font-family='"Liberation Sans", sans-serif' font-size="4.2" font-weight="normal" fill="#d4d4d4"  stroke="#d4d4d4" stroke-width="0.1">...</text>
<text x="493.26" y="417.1" textLength="8.03" lengthAdjust="spacingAndGlyphs" font-family='"Liberation Sans", sans-serif' font-size="4.2" font-weight="normal" fill="#d4d4d4"  stroke="#d4d4d4" stroke-width="0.1">2015</text>
<line x1="504.2" y1="413" x2="504.2" y2="418" stroke="#343434" stroke-width="0.9" />
<line x1="500.9" y1="408.7" x2="500.9" y2="413" stroke="#343434" stroke-width="0.9" />
<text x="501.12" y="412.8" textLength="6.18" lengthAdjust="spacingAndGlyphs" font-family='"Liberation Sans", sans-serif' font-size="4.2" font-weight="normal" fill="#d4d4d4"  stroke="#d4d4d4" stroke-width="0.1">Dec</text>
<text x="507.61" y="412.8" textLength="3.59" lengthAdjust="spacingAndGlyphs" font-family='"Liberation Sans", sans-serif' font-size="4.2" font-weight="normal" fill="#d4d4d4"  stroke="#d4d4d4" stroke-width="0.1">...</text>
<text x="506.32" y="417.1" textLength="8.04" lengthAdjust="spacingAndGlyphs" font-family='"Liberation Sans", sans-serif' font-size="4.2" font-weight="normal" fill="#d4d4d4"  stroke="#d4d4d4" stroke-width="0.1">2016</text>
<line x1="517.26" y1="413" x2="517.26" y2="418" stroke="#343434" stroke-width="0.9" />
<line x1="513.96" y1="408.7" x2="513.96" y2="413" stroke="#343434" stroke-width="0.9" />
<text x="514.18" y="412.8" textLength="6.18" lengthAdjust="spacingAndGlyphs" font-family='"Liberation Sans", sans-serif' font-size="4.2" font-weight="normal" fill="#d4d4d4"  stroke="#d4d4d4" stroke-width="0.1">Dec</text>
<text x="520.67" y="412.8" textLength="3.59" lengthAdjust="spacingAndGlyphs" font-family='"Liberation Sans", sans-serif' font-size="4.2" font-weight="normal" fill="#d4d4d4"  stroke="#d4d4d4" stroke-width="0.1">...</text>
<text x="519.38" y="417.1" textLength="8.06" lengthAdjust="spacingAndGlyphs" font-family='"Liberation Sans", sans-serif' font-size="4.2" font-weight="normal" fill="#d4d4d4"  stroke="#d4d4d4" stroke-width="0.1">2017</text>
<line x1="530.32" y1="413" x2="530.32" y2="418" stroke="#343434" stroke-width="0.9" />
<line x1="527.02" y1="408.7" x2="527.02" y2="413" stroke="#343434" stroke-width="0.9" />
<text x="527.24" y="412.8" textLength="6.18" lengthAdjust="spacingAndGlyphs" font-family='"Liberation Sans", sans-serif' font-size="4.2" font-weight="normal" fill="#d4d4d4"  stroke="#d4d4d4" stroke-width="0.1">Dec</text>
<text x="533.73" y="412.8" textLength="3.59" lengthAdjust="spacingAndGlyphs" font-family='"Liberation Sans", sans-serif' font-size="4.2" font-weight="normal" fill="#d4d4d4"  stroke="#d4d4d4" stroke-width="0.1">...</text>
<text x="532.44" y="417.1" textLength="8.04" lengthAdjust="spacingAndGlyphs" font-family='"Liberation Sans", sans-serif' font-size="4.2" font-weight="normal" fill="#d4d4d4"  stroke="#d4d4d4" stroke-width="0.1">2018</text>
<line x1="543.38" y1="413" x2="543.38" y2="418" stroke="#343434" stroke-width="0.9" />
<line x1="540.08" y1="408.7" x2="540.08" y2="413" stroke="#343434" stroke-width="0.9" />
<text x="540.30" y="412.8" textLength="6.18" lengthAdjust="spacingAndGlyphs" font-family='"Liberation Sans", sans-serif' font-size="4.2" font-weight="normal" fill="#d4d4d4"  stroke="#d4d4d4" stroke-width="0.1">Dec</text>
<text x="546.79" y="412.8" textLength="3.59" lengthAdjust="spacingAndGlyphs" font-family='"Liberation Sans", sans-serif' font-size="4.2" font-weight="normal" fill="#d4d4d4"  stroke="#d4d4d4" stroke-width="0.1">...</text>
<text x="545.50" y="417.1" textLength="8.05" lengthAdjust="spacingAndGlyphs" font-family='"Liberation Sans", sans-serif' font-size="4.2" font-weight="normal" fill="#d4d4d4"  stroke="#d4d4d4" stroke-width="0.1">2019</text>
<line x1="556.44" y1="413" x2="556.44" y2="418" stroke="#343434" stroke-width="0.9" />
<line x1="553.14" y1="408.7" x2="553.14" y2="413" stroke="#343434" stroke-width="0.9" />
<text x="553.36" y="412.8" textLength="6.18" lengthAdjust="spacingAndGlyphs" font-family='"Liberation Sans", sans-serif' font-size="4.2" font-weight="normal" fill="#d4d4d4"  stroke="#d4d4d4" stroke-width="0.1">Dec</text>
<text x="559.85" y="412.8" textLength="3.59" lengthAdjust="spacingAndGlyphs" font-family='"Liberation Sans", sans-serif' font-size="4.2" font-weight="normal" fill="#d4d4d4"  stroke="#d4d4d4" stroke-width="0.1">...</text>
<text x="558.35" y="417.1" textLength="8.44" lengthAdjust="spacingAndGlyphs" font-family='"Liberation Sans", sans-serif' font-size="4.2" font-weight="normal" fill="#d4d4d4"  stroke="#d4d4d4" stroke-width="0.1">2020</text>
<line x1="569.5" y1="413" x2="569.5" y2="418" stroke="#343434" stroke-width="0.9" />
<line x1="566.2" y1="408.7" x2="566.2" y2="413" stroke="#343434" stroke-width="0.9" />
<text x="566.42" y="412.8" textLength="6.18" lengthAdjust="spacingAndGlyphs" font-family='"Liberation Sans", sans-serif' font-size="4.2" font-weight="normal" fill="#d4d4d4"  stroke="#d4d4d4" stroke-width="0.1">Dec</text>
<text x="572.91" y="412.8" textLength="3.59" lengthAdjust="spacingAndGlyphs" font-family='"Liberation Sans", sans-serif' font-size="4.2" font-weight="normal" fill="#d4d4d4"  stroke="#d4d4d4" stroke-width="0.1">...</text>
<text x="571.62" y="417.1" textLength="8.06" lengthAdjust="spacingAndGlyphs" font-family='"Liberation Sans", sans-serif' font-size="4.2" font-weight="normal" fill="#d4d4d4"  stroke="#d4d4d4" stroke-width="0.1">2021</text>
<line x1="582.56" y1="413" x2="582.56" y2="418" stroke="#343434" stroke-width="0.9" />
<line x1="579.26" y1="408.7" x2="579.26" y2="413" stroke="#343434" stroke-width="0.9" />
<text x="579.48" y="412.8" textLength="6.18" lengthAdjust="spacingAndGlyphs" font-family='"Liberation Sans", sans-serif' font-size="4.2" font-weight="normal" fill="#d4d4d4"  stroke="#d4d4d4" stroke-width="0.1">Dec</text>
<text x="585.97" y="412.8" textLength="3.59" lengthAdjust="spacingAndGlyphs" font-family='"Liberation Sans", sans-serif' font-size="4.2" font-weight="normal" fill="#d4d4d4"  stroke="#d4d4d4" stroke-width="0.1">...</text>
<text x="584.47" y="417.1" textLength="8.48" lengthAdjust="spacingAndGlyphs" font-family='"Liberation Sans", sans-serif' font-size="4.2" font-weight="normal" fill="#d4d4d4"  stroke="#d4d4d4" stroke-width="0.1">2022</text>
<line x1="595.62" y1="413" x2="595.62" y2="418" stroke="#343434" stroke-width="0.9" />
<line x1="592.32" y1="408.7" x2="592.32" y2="413" stroke="#343434" stroke-width="0.9" />
<text x="592.54" y="412.8" textLength="6.18" lengthAdjust="spacingAndGlyphs" font-family='"Liberation Sans", sans-serif' font-size="4.2" font-weight="normal" fill="#d4d4d4"  stroke="#d4d4d4" stroke-width="0.1">Dec</text>
<text x="599.03" y="412.8" textLength="3.59" lengthAdjust="spacingAndGlyphs" font-family='"Liberation Sans", sans-serif' font-size="4.2" font-weight="normal" fill="#d4d4d4"  stroke="#d4d4d4" stroke-width="0.1">...</text>
<text x="601.72" y="417.1" textLength="8.46" lengthAdjust="spacingAndGlyphs" font-family='"Liberation Sans", sans-serif' font-size="4.2" font-weight="normal" fill="#d4d4d4"  stroke="#d4d4d4" stroke-width="0.1">2023</text>
<line x1="296.5" y1="408" x2="296.5" y2="418" stroke="#343434" stroke-width="0.9" />
<rect x="298.005" y="407.4" width="1" height="1" fill="#7a7a7a" />
<rect x="301.27" y="407.4" width="1" height="1" fill="#7a7a7a" />
<rect x="304.535" y="407.4" width="1" height="1" fill="#7a7a7a" />
<rect x="307.8" y="407.4" width="1" height="1" fill="#7a7a7a" />
<rect x="311.065" y="407.4" width="1" height="1" fill="#7a7a7a" />
<rect x="314.33" y="407.4" width="1" height="1" fill="#7a7a7a" />
<rect x="317.595" y="407.4" width="1" height="1" fill="#7a7a7a" />
<rect x="320.86" y="407.4" width="1" height="1" fill="#7a7a7a" />
<rect x="324.125" y="407.4" width="1" height="1" fill="#7a7a7a" />
<rect x="327.39" y="407.4" width="1" height="1" fill="#7a7a7a" />
<rect x="330.655" y="407.4" width="1" height="1" fill="#7a7a7a" />
<rect x="333.92" y="407.4" width="1" height="1" fill="#7a7a7a" />
<rect x="337.185" y="407.4" width="1" height="1" fill="#7a7a7a" />
<rect x="340.45" y="407.4" width="1" height="1" fill="#7a7a7a" />
<rect x="343.715" y="407.4" width="1" height="1" fill="#7a7a7a" />
<rect x="346.98" y="407.4" width="1" height="1" fill="#7a7a7a" />
<rect x="350.245" y="407.4" width="1" height="1" fill="#7a7a7a" />
<rect x="353.51" y="407.4" width="1" height="1" fill="#7a7a7a" />
<rect x="356.775" y="407.4" width="1" height="1" fill="#7a7a7a" />
<rect x="360.04" y="407.4" width="1" height="1" fill="#7a7a7a" />
<rect x="363.305" y="407.4" width="1" height="1" fill="#7a7a7a" />
<rect x="366.57" y="407.4" width="1" height="1" fill="#7a7a7a" />
<rect x="369.835" y="407.4" width="1" height="1" fill="#7a7a7a" />
<rect x="373.1" y="407.4" width="1" height="1" fill="#7a7a7a" />
<rect x="376.365" y="407.4" width="1" height="1" fill="#7a7a7a" />
<rect x="379.63" y="407.4" width="1" height="1" fill="#7a7a7a" />
<rect x="382.895" y="407.4" width="1" height="1" fill="#7a7a7a" />
<rect x="386.16" y="407.4" width="1" height="1" fill="#7a7a7a" />
<rect x="389.425" y="407.4" width="1" height="1" fill="#7a7a7a" />
<rect x="392.69" y="407.4" width="1" height="1" fill="#7a7a7a" />
<rect x="395.955" y="407.4" width="1" height="1" fill="#7a7a7a" />
<rect x="399.22" y="407.4" width="1" height="1" fill="#7a7a7a" />
<rect x="402.485" y="407.4" width="1" height="1" fill="#7a7a7a" />
<rect x="405.75" y="407.4" width="1" height="1" fill="#7a7a7a" />
<rect x="409.015" y="407.4" width="1" height="1" fill="#7a7a7a" />
<rect x="412.28" y="407.4" width="1" height="1" fill="#7a7a7a" />
<rect x="415.545" y="407.4" width="1" height="1" fill="#7a7a7a" />
<rect x="418.81" y="407.4" width="1" height="1" fill="#7a7a7a" />
<rect x="422.075" y="407.4" width="1" height="1" fill="#7a7a7a" />
<rect x="425.34" y="407.4" width="1" height="1" fill="#7a7a7a" />
<rect x="428.605" y="407.4" width="1" height="1" fill="#7a7a7a" />
<rect x="431.87" y="407.4" width="1" height="1" fill="#7a7a7a" />
<rect x="435.135" y="407.4" width="1" height="1" fill="#7a7a7a" />
<rect x="438.4" y="407.4" width="1" height="1" fill="#7a7a7a" />
<rect x="441.665" y="407.4" width="1" height="1" fill="#7a7a7a" />
<rect x="444.93" y="407.4" width="1" height="1" fill="#7a7a7a" />
<rect x="448.195" y="407.4" width="1" height="1" fill="#7a7a7a" />
<rect x="451.46" y="407.4" width="1" height="1" fill="#7a7a7a" />
<rect x="454.725" y="407.4" width="1" height="1" fill="#7a7a7a" />
<rect x="457.99" y="407.4" width="1" height="1" fill="#7a7a7a" />
<rect x="461.255" y="407.4" width="1" height="1" fill="#7a7a7a" />
<rect x="464.52" y="407.4" width="1" height="1" fill="#7a7a7a" />
<rect x="467.785" y="407.4" width="1" height="1" fill="#7a7a7a" />
<rect x="471.05" y="407.4" width="1" height="1" fill="#7a7a7a" />
<rect x="474.315" y="407.4" width="1" height="1" fill="#7a7a7a" />
<rect x="477.58" y="407.4" width="1" height="1" fill="#7a7a7a" />
<rect x="480.845" y="407.4" width="1" height="1" fill="#7a7a7a" />
<rect x="484.11" y="407.4" width="1" height="1" fill="#7a7a7a" />
<rect x="487.375" y="407.4" width="1" height="1" fill="#7a7a7a" />
<rect x="490.64" y="407.4" width="1" height="1" fill="#7a7a7a" />
<rect x="493.905" y="407.4" width="1" height="1" fill="#7a7a7a" />
<rect x="497.17" y="407.4" width="1" height="1" fill="#7a7a7a" />
<rect x="500.435" y="407.4" width="1" height="1" fill="#7a7a7a" />
<rect x="503.7" y="407.4" width="1" height="1" fill="#7a7a7a" />
<rect x="506.965" y="407.4" width="1" height="1" fill="#7a7a7a" />
<rect x="510.23" y="407.4" width="1" height="1" fill="#7a7a7a" />
<rect x="513.495" y="407.4" width="1" height="1" fill="#7a7a7a" />
<rect x="516.76" y="407.4" width="1" height="1" fill="#7a7a7a" />
<rect x="520.025" y="407.4" width="1" height="1" fill="#7a7a7a" />
<rect x="523.29" y="407.4" width="1" height="1" fill="#7a7a7a" />
<rect x="526.555" y="407.4" width="1" height="1" fill="#7a7a7a" />
<rect x="529.82" y="407.4" width="1" height="1" fill="#7a7a7a" />
<rect x="533.085" y="407.4" width="1" height="1" fill="#7a7a7a" />
<rect x="536.35" y="407.4" width="1" height="1" fill="#7a7a7a" />
<rect x="539.615" y="407.4" width="1" height="1" fill="#7a7a7a" />
<rect x="542.88" y="407.4" width="1" height="1" fill="#7a7a7a" />
<rect x="546.145" y="407.4" width="1" height="1" fill="#7a7a7a" />
<rect x="549.41" y="407.4" width="1" height="1" fill="#7a7a7a" />
<rect x="552.675" y="407.4" width="1" height="1" fill="#7a7a7a" />
<rect x="555.94" y="407.4" width="1" height="1" fill="#7a7a7a" />
<rect x="559.205" y="407.4" width="1" height="1" fill="#7a7a7a" />
<rect x="562.47" y="407.4" width="1" height="1" fill="#7a7a7a" />
<rect x="565.735" y="407.4" width="1" height="1" fill="#7a7a7a" />
<rect x="569" y="407.4" width="1" height="1" fill="#7a7a7a" />
<rect x="572.265" y="407.4" width="1" height="1" fill="#7a7a7a" />
<rect x="575.53" y="407.4" width="1" height="1" fill="#7a7a7a" />
<rect x="578.795" y="407.4" width="1" height="1" fill="#7a7a7a" />
<rect x="582.06" y="407.4" width="1" height="1" fill="#7a7a7a" />
<rect x="585.325" y="407.4" width="1" height="1" fill="#7a7a7a" />
<rect x="588.59" y="407.4" width="1" height="1" fill="#7a7a7a" />
<rect x="591.855" y="407.4" width="1" height="1" fill="#7a7a7a" />
<rect x="595.12" y="407.4" width="1" height="1" fill="#7a7a7a" />
<rect x="598.385" y="407.4" width="1" height="1" fill="#7a7a7a" />
<rect x="601.65" y="407.4" width="1" height="1" fill="#7a7a7a" />
<text x="101.94" y="436.4" textLength="32.05" lengthAdjust="spacingAndGlyphs" font-family='"Liberation Sans", sans-serif' font-size="18.3" font-weight="normal" fill="#f7a128"  stroke="#f7a128" stroke-width="0.16">Taylor</text>
<text x="154.51" y="436.4" textLength="38.79" lengthAdjust="spacingAndGlyphs" font-family='"Liberation Sans", sans-serif' font-size="18.3" font-weight="normal" fill="#f7a128"  stroke="#f7a128" stroke-width="0.16">Neutral</text>
<text x="219.11" y="436.4" textLength="45.13" lengthAdjust="spacingAndGlyphs" font-family='"Liberation Sans", sans-serif' font-size="18.3" font-weight="normal" fill="#f7a128"  stroke="#f7a128" stroke-width="0.16">Inflation</text>
<text x="479.38" y="436.4" textLength="26.13" lengthAdjust="spacingAndGlyphs" font-family='"Liberation Sans", sans-serif' font-size="18.3" font-weight="normal" fill="#f7a128"  stroke="#f7a128" stroke-width="0.16">Okun</text>
<text x="149.69" y="457.95" textLength="4.93" lengthAdjust="spacingAndGlyphs" font-family='"Liberation Sans", sans-serif' font-size="12.3" font-weight="normal" fill="#f7a128"  stroke="#f7a128" stroke-width="0.16">=</text>
<text x="209.61" y="458.5" textLength="5.89" lengthAdjust="spacingAndGlyphs" font-family='"Liberation Sans", sans-serif' font-size="15" font-weight="normal" fill="#f7a128"  stroke="#f7a128" stroke-width="0.16">+</text>
<text x="277.24" y="458.5" textLength="5.53" lengthAdjust="spacingAndGlyphs" font-family='"Liberation Sans", sans-serif' font-size="15" font-weight="normal" fill="#f7a128"  stroke="#f7a128" stroke-width="0.16">+</text>
<text x="281.57" y="457.7" textLength="5.59" lengthAdjust="spacingAndGlyphs" font-family='"Liberation Sans", sans-serif' font-size="20" font-weight="normal" fill="#f7a128"  transform="translate(0 457.7) scale(1 0.72) translate(0 -457.7)">[</text>
<text x="324.93" y="464.741" textLength="6.64" lengthAdjust="spacingAndGlyphs" font-family='"Liberation Sans", sans-serif' font-size="21.9327" font-weight="normal" fill="#f7a128"  stroke="#f7a128" stroke-width="0.45">*</text>
<text x="331.31" y="457.2" textLength="4.77" lengthAdjust="spacingAndGlyphs" font-family='"Liberation Sans", sans-serif' font-size="16.3" font-weight="normal" fill="#f7a128"  stroke="#f7a128" stroke-width="0.16">(</text>
<text x="371.25" y="458.5" textLength="5.59" lengthAdjust="spacingAndGlyphs" font-family='"Liberation Sans", sans-serif' font-size="18.3" font-weight="normal" fill="#f7a128"  stroke="#f7a128" stroke-width="0.16">-</text>
<text x="417.32" y="457.2" textLength="4.52" lengthAdjust="spacingAndGlyphs" font-family='"Liberation Sans", sans-serif' font-size="16.3" font-weight="normal" fill="#f7a128"  stroke="#f7a128" stroke-width="0.16">)</text>
<text x="421.66" y="457.7" textLength="5.03" lengthAdjust="spacingAndGlyphs" font-family='"Liberation Sans", sans-serif' font-size="20" font-weight="normal" fill="#f7a128"  transform="translate(0 457.7) scale(1 0.72) translate(0 -457.7)">]</text>
<text x="427.12" y="458.5" textLength="5.77" lengthAdjust="spacingAndGlyphs" font-family='"Liberation Sans", sans-serif' font-size="15" font-weight="normal" fill="#f7a128"  stroke="#f7a128" stroke-width="0.16">+</text>
<text x="432.30" y="457.7" textLength="5.45" lengthAdjust="spacingAndGlyphs" font-family='"Liberation Sans", sans-serif' font-size="20" font-weight="normal" fill="#f7a128"  transform="translate(0 457.7) scale(1 0.72) translate(0 -457.7)">[</text>
<text x="470.94" y="464.741" textLength="6.32" lengthAdjust="spacingAndGlyphs" font-family='"Liberation Sans", sans-serif' font-size="21.9327" font-weight="normal" fill="#f7a128"  stroke="#f7a128" stroke-width="0.45">*</text>
<text x="513.95" y="464.741" textLength="5.99" lengthAdjust="spacingAndGlyphs" font-family='"Liberation Sans", sans-serif' font-size="21.9327" font-weight="normal" fill="#f7a128"  stroke="#f7a128" stroke-width="0.45">*</text>
<text x="519.93" y="457.2" textLength="4.14" lengthAdjust="spacingAndGlyphs" font-family='"Liberation Sans", sans-serif' font-size="16.3" font-weight="normal" fill="#f7a128"  stroke="#f7a128" stroke-width="0.16">(</text>
<text x="564.04" y="458.5" textLength="5.73" lengthAdjust="spacingAndGlyphs" font-family='"Liberation Sans", sans-serif' font-size="18.3" font-weight="normal" fill="#f7a128"  stroke="#f7a128" stroke-width="0.16">-</text>
<text x="613.32" y="457.2" textLength="4.77" lengthAdjust="spacingAndGlyphs" font-family='"Liberation Sans", sans-serif' font-size="16.3" font-weight="normal" fill="#f7a128"  stroke="#f7a128" stroke-width="0.16">)</text>
<text x="618.85" y="457.7" textLength="5.31" lengthAdjust="spacingAndGlyphs" font-family='"Liberation Sans", sans-serif' font-size="20" font-weight="normal" fill="#f7a128"  transform="translate(0 457.7) scale(1 0.72) translate(0 -457.7)">]</text>
<text x="149.69" y="480.05" textLength="4.93" lengthAdjust="spacingAndGlyphs" font-family='"Liberation Sans", sans-serif' font-size="12.3" font-weight="normal" fill="#f7a128"  stroke="#f7a128" stroke-width="0.16">=</text>
<text x="209.61" y="480.6" textLength="5.89" lengthAdjust="spacingAndGlyphs" font-family='"Liberation Sans", sans-serif' font-size="15" font-weight="normal" fill="#f7a128"  stroke="#f7a128" stroke-width="0.16">+</text>
<text x="277.24" y="480.6" textLength="5.53" lengthAdjust="spacingAndGlyphs" font-family='"Liberation Sans", sans-serif' font-size="15" font-weight="normal" fill="#f7a128"  stroke="#f7a128" stroke-width="0.16">+</text>
<text x="281.57" y="479.8" textLength="5.59" lengthAdjust="spacingAndGlyphs" font-family='"Liberation Sans", sans-serif' font-size="20" font-weight="normal" fill="#f7a128"  transform="translate(0 479.8) scale(1 0.72) translate(0 -479.8)">[</text>
<text x="324.93" y="486.841" textLength="6.64" lengthAdjust="spacingAndGlyphs" font-family='"Liberation Sans", sans-serif' font-size="21.9327" font-weight="normal" fill="#f7a128"  stroke="#f7a128" stroke-width="0.45">*</text>
<text x="331.31" y="479.3" textLength="4.77" lengthAdjust="spacingAndGlyphs" font-family='"Liberation Sans", sans-serif' font-size="16.3" font-weight="normal" fill="#f7a128"  stroke="#f7a128" stroke-width="0.16">(</text>
<text x="371.25" y="480.6" textLength="5.59" lengthAdjust="spacingAndGlyphs" font-family='"Liberation Sans", sans-serif' font-size="18.3" font-weight="normal" fill="#f7a128"  stroke="#f7a128" stroke-width="0.16">-</text>
<text x="417.32" y="479.3" textLength="4.52" lengthAdjust="spacingAndGlyphs" font-family='"Liberation Sans", sans-serif' font-size="16.3" font-weight="normal" fill="#f7a128"  stroke="#f7a128" stroke-width="0.16">)</text>
<text x="421.66" y="479.8" textLength="5.03" lengthAdjust="spacingAndGlyphs" font-family='"Liberation Sans", sans-serif' font-size="20" font-weight="normal" fill="#f7a128"  transform="translate(0 479.8) scale(1 0.72) translate(0 -479.8)">]</text>
<text x="427.12" y="480.6" textLength="5.77" lengthAdjust="spacingAndGlyphs" font-family='"Liberation Sans", sans-serif' font-size="15" font-weight="normal" fill="#f7a128"  stroke="#f7a128" stroke-width="0.16">+</text>
<text x="432.30" y="479.8" textLength="5.45" lengthAdjust="spacingAndGlyphs" font-family='"Liberation Sans", sans-serif' font-size="20" font-weight="normal" fill="#f7a128"  transform="translate(0 479.8) scale(1 0.72) translate(0 -479.8)">[</text>
<text x="470.94" y="486.841" textLength="6.32" lengthAdjust="spacingAndGlyphs" font-family='"Liberation Sans", sans-serif' font-size="21.9327" font-weight="normal" fill="#f7a128"  stroke="#f7a128" stroke-width="0.45">*</text>
<text x="513.95" y="486.841" textLength="5.99" lengthAdjust="spacingAndGlyphs" font-family='"Liberation Sans", sans-serif' font-size="21.9327" font-weight="normal" fill="#f7a128"  stroke="#f7a128" stroke-width="0.45">*</text>
<text x="519.93" y="479.3" textLength="4.14" lengthAdjust="spacingAndGlyphs" font-family='"Liberation Sans", sans-serif' font-size="16.3" font-weight="normal" fill="#f7a128"  stroke="#f7a128" stroke-width="0.16">(</text>
<text x="564.04" y="480.6" textLength="5.73" lengthAdjust="spacingAndGlyphs" font-family='"Liberation Sans", sans-serif' font-size="18.3" font-weight="normal" fill="#f7a128"  stroke="#f7a128" stroke-width="0.16">-</text>
<text x="613.32" y="479.3" textLength="4.77" lengthAdjust="spacingAndGlyphs" font-family='"Liberation Sans", sans-serif' font-size="16.3" font-weight="normal" fill="#f7a128"  stroke="#f7a128" stroke-width="0.16">)</text>
<text x="618.85" y="479.8" textLength="5.31" lengthAdjust="spacingAndGlyphs" font-family='"Liberation Sans", sans-serif' font-size="20" font-weight="normal" fill="#f7a128"  transform="translate(0 479.8) scale(1 0.72) translate(0 -479.8)">]</text>
<text x="101.29" y="458.5" textLength="42.10" lengthAdjust="spacingAndGlyphs" font-family='"Liberation Sans", sans-serif' font-size="18.3" font-weight="normal" fill="#f7a128"  stroke="#f7a128" stroke-width="0.16">Rule Est</text>
<text x="155.06" y="458.5" textLength="51.05" lengthAdjust="spacingAndGlyphs" font-family='"Liberation Sans", sans-serif' font-size="18.3" font-weight="normal" fill="#f7a128"  stroke="#f7a128" stroke-width="0.16">Real Rate</text>
<rect x="218.2" y="441.2" width="56.3" height="22.1" fill="#1e6ee0" />
<rect x="219.4" y="442.4" width="53.9" height="19.7" fill="#000" />
<rect x="219.9" y="442.8" width="44" height="18.4" fill="#ffa32a" />
<text x="220.46" y="458.5" textLength="43.72" lengthAdjust="spacingAndGlyphs" font-family='"Liberation Sans", sans-serif' font-size="18.3" font-weight="normal" fill="#140c00"  stroke="#140c00" stroke-width="0.1">Core CPI</text>
<rect x="264.7" y="442.8" width="8.5" height="18.4" fill="#3c3c3c" />
<path d="M267.1 450.6 L271.2 450.6 L269.15 454.7 Z" fill="#f0f0f0"/>
<text x="292.38" y="458.5" textLength="26.42" lengthAdjust="spacingAndGlyphs" font-family='"Liberation Sans", sans-serif' font-size="18.3" font-weight="normal" fill="#f7a128"  stroke="#f7a128" stroke-width="0.16">Alpha</text>
<text x="340.23" y="458.5" textLength="21.23" lengthAdjust="spacingAndGlyphs" font-family='"Liberation Sans", sans-serif' font-size="18.3" font-weight="normal" fill="#f7a128"  stroke="#f7a128" stroke-width="0.16">Infl</text>
<text x="381.25" y="458.5" textLength="32.43" lengthAdjust="spacingAndGlyphs" font-family='"Liberation Sans", sans-serif' font-size="18.3" font-weight="normal" fill="#f7a128"  stroke="#f7a128" stroke-width="0.16">Target</text>
<text x="442.98" y="458.5" textLength="23.02" lengthAdjust="spacingAndGlyphs" font-family='"Liberation Sans", sans-serif' font-size="18.3" font-weight="normal" fill="#f7a128"  stroke="#f7a128" stroke-width="0.16">Beta</text>
<text x="479.40" y="458.5" textLength="31.19" lengthAdjust="spacingAndGlyphs" font-family='"Liberation Sans", sans-serif' font-size="18.3" font-weight="normal" fill="#f7a128"  stroke="#f7a128" stroke-width="0.16">Factor</text>
<text x="529.96" y="458.5" textLength="31.93" lengthAdjust="spacingAndGlyphs" font-family='"Liberation Sans", sans-serif' font-size="18.3" font-weight="normal" fill="#f7a128"  stroke="#f7a128" stroke-width="0.16">NAIRU</text>
<text x="572.27" y="458.5" textLength="34.89" lengthAdjust="spacingAndGlyphs" font-family='"Liberation Sans", sans-serif' font-size="18.3" font-weight="normal" fill="#f7a128"  stroke="#f7a128" stroke-width="0.16">Unemp</text>
<text x="109.07" y="480.6" textLength="27.38" lengthAdjust="spacingAndGlyphs" font-family='"Liberation Sans", sans-serif' font-size="18.3" font-weight="normal" fill="#f2d21e"  stroke="#f2d21e" stroke-width="0.16">10.42</text>
<rect x="154.7" y="463.7" width="53" height="20.6" fill="#ffa32a" />
<text x="184.34" y="480.6" textLength="21.49" lengthAdjust="spacingAndGlyphs" font-family='"Liberation Sans", sans-serif' font-size="18.3" font-weight="normal" fill="#140c00"  stroke="#140c00" stroke-width="0.1">2.00</text>
<text x="238.04" y="480.6" textLength="21.90" lengthAdjust="spacingAndGlyphs" font-family='"Liberation Sans", sans-serif' font-size="18.3" font-weight="normal" fill="#f0f0f0"  stroke="#f0f0f0" stroke-width="0.16">4.80</text>
<rect x="290" y="463.7" width="32.6" height="20.6" fill="#ffa32a" />
<text x="299.34" y="480.6" textLength="22.92" lengthAdjust="spacingAndGlyphs" font-family='"Liberation Sans", sans-serif' font-size="18.3" font-weight="normal" fill="#140c00"  stroke="#140c00" stroke-width="0.1">0.50</text>
<text x="344.44" y="480.6" textLength="22.41" lengthAdjust="spacingAndGlyphs" font-family='"Liberation Sans", sans-serif' font-size="18.3" font-weight="normal" fill="#f0f0f0"  stroke="#f0f0f0" stroke-width="0.16">4.80</text>
<rect x="379.4" y="463.7" width="34.8" height="20.6" fill="#ffa32a" />
<text x="390.41" y="480.6" textLength="22.68" lengthAdjust="spacingAndGlyphs" font-family='"Liberation Sans", sans-serif' font-size="18.3" font-weight="normal" fill="#140c00"  stroke="#140c00" stroke-width="0.1">1.75</text>
<rect x="442" y="463.7" width="26.5" height="20.6" fill="#ffa32a" />
<text x="445.16" y="480.6" textLength="22.02" lengthAdjust="spacingAndGlyphs" font-family='"Liberation Sans", sans-serif' font-size="18.3" font-weight="normal" fill="#140c00"  stroke="#140c00" stroke-width="0.1">0.75</text>
<rect x="478.6" y="463.7" width="32.7" height="20.6" fill="#ffa32a" />
<text x="487.85" y="480.6" textLength="21.38" lengthAdjust="spacingAndGlyphs" font-family='"Liberation Sans", sans-serif' font-size="18.3" font-weight="normal" fill="#140c00"  stroke="#140c00" stroke-width="0.1">2.00</text>
<rect x="528.7" y="463.7" width="33.9" height="20.6" fill="#ffa32a" />
<text x="538.95" y="480.6" textLength="21.89" lengthAdjust="spacingAndGlyphs" font-family='"Liberation Sans", sans-serif' font-size="18.3" font-weight="normal" fill="#140c00"  stroke="#140c00" stroke-width="0.1">5.00</text>
<text x="580.86" y="480.6" textLength="22.28" lengthAdjust="spacingAndGlyphs" font-family='"Liberation Sans", sans-serif' font-size="18.3" font-weight="normal" fill="#f0f0f0"  stroke="#f0f0f0" stroke-width="0.16">3.60</text>
<text x="75" y="494" textLength="585" lengthAdjust="spacing" font-family='"Liberation Mono", monospace' font-size="8.33" fill="#ffffff" stroke="#ffffff" stroke-width="0.3" xml:space="preserve">Australia 61 2 9777 8600 Brazil 5511 2395 9000 Europe 44 20 7330 7500 Germany 49 69 9204 1210 Hong Kong 852 2977 6000</text>
<text x="75" y="503" textLength="585" lengthAdjust="spacing" font-family='"Liberation Mono", monospace' font-size="8.33" fill="#ffffff" stroke="#ffffff" stroke-width="0.3" xml:space="preserve">Japan 81 3 4565 8900      Singapore 65 6212 1000      U.S. 1 212 318 2000       Copyright 2023 Bloomberg Finance L.P.</text>
<text x="440" y="512" textLength="290" lengthAdjust="spacing" font-family='"Liberation Mono", monospace' font-size="8.33" fill="#ffffff" stroke="#ffffff" stroke-width="0.3" xml:space="preserve">SN 874564 EDT  GMT-4:00 H222-4632-172 25-Jul-2023 09:37:23</text>
</svg>
</body></html>
